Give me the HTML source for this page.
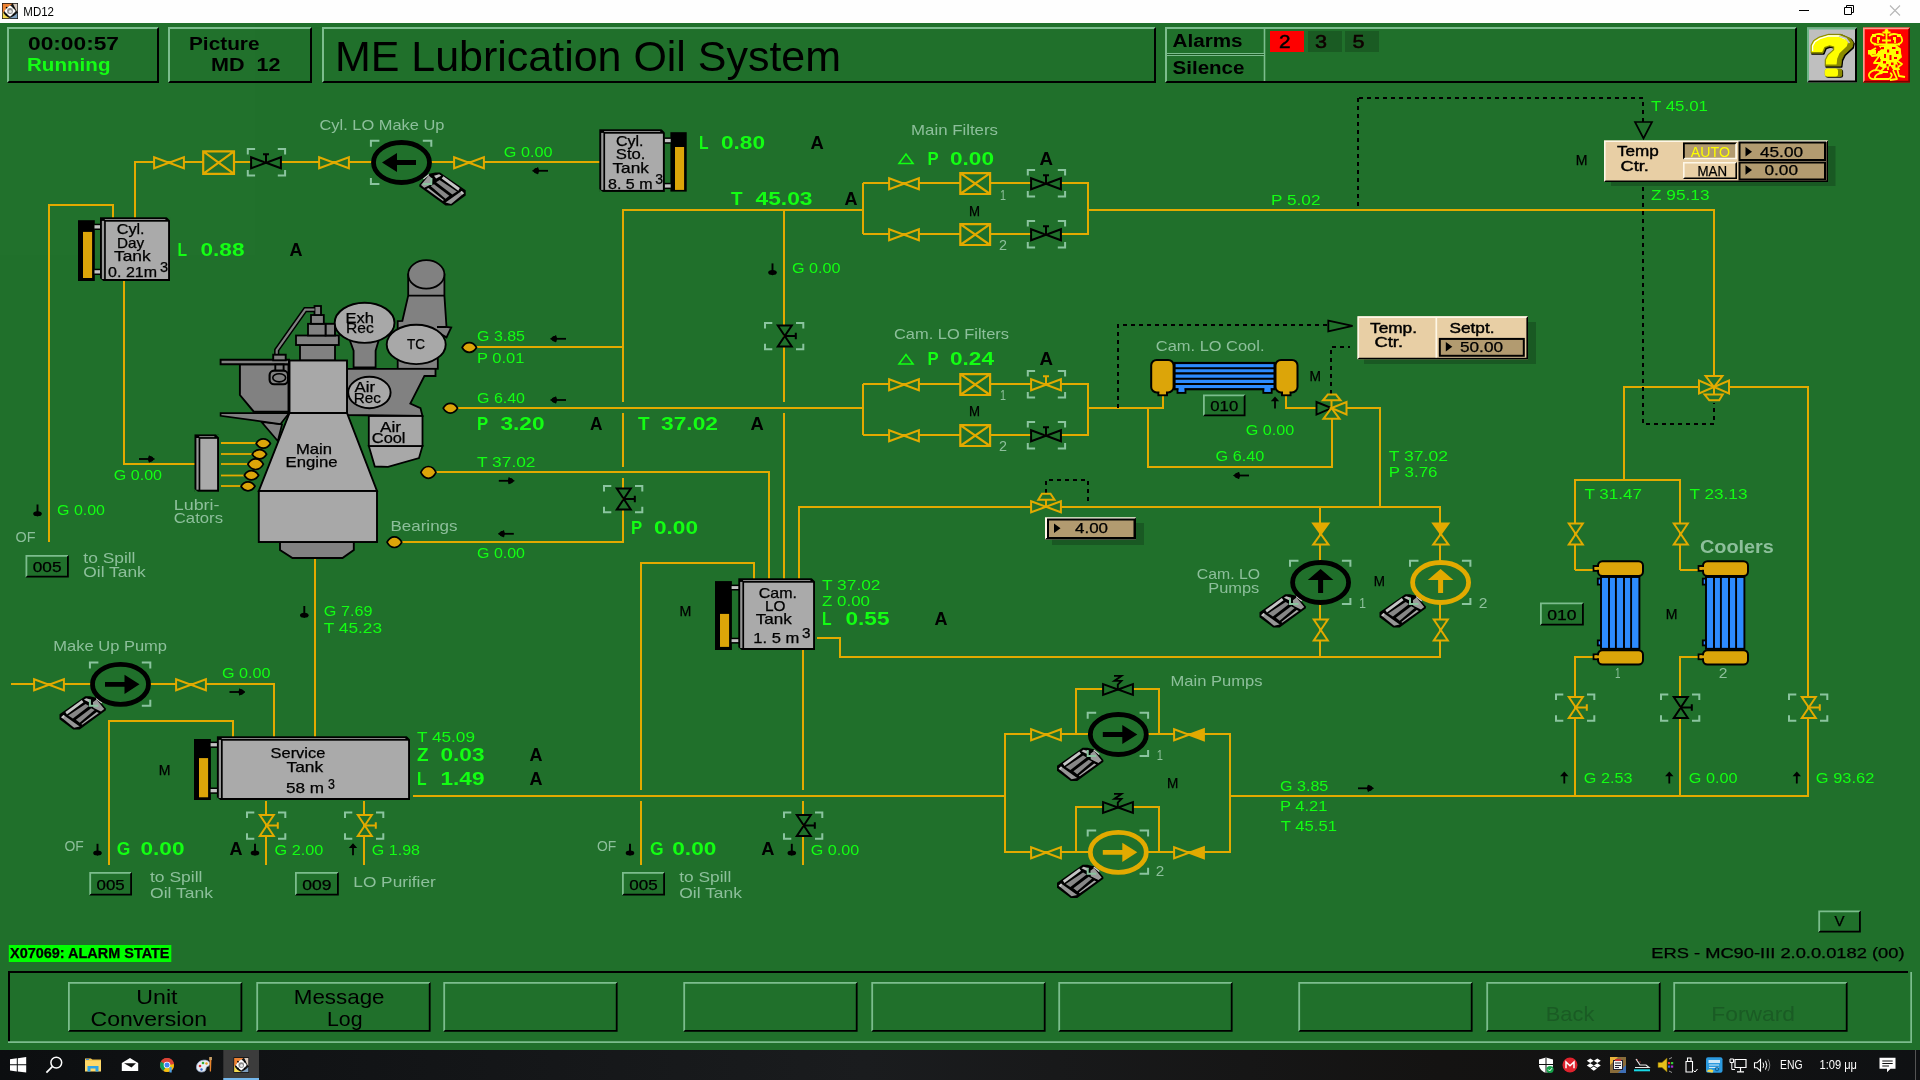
<!DOCTYPE html>
<html><head><meta charset="utf-8"><title>MD12</title>
<style>
html,body{margin:0;padding:0;background:#21712C;overflow:hidden;}
body{width:1920px;height:1080px;font-family:"Liberation Sans",sans-serif;}
svg{display:block;position:absolute;left:0;top:0;will-change:transform;opacity:0.9999;}
text{font-family:"Liberation Sans",sans-serif;white-space:pre;}
.g{fill:#14FF14;font-size:13.9px;}
.G{fill:#14FF14;font-size:17.8px;font-weight:bold;}
.A{fill:#000;font-size:17.8px;font-weight:bold;}
.l{fill:#8EC09C;font-size:13.9px;}
.L{fill:#8EC09C;font-size:17.8px;font-weight:bold;}
.k{fill:#000;font-size:13.9px;stroke:#000;stroke-width:0.25px;}
.kb{fill:#000;font-size:13.9px;stroke:#000;stroke-width:0.4px;}
.h{fill:#000;font-size:17.6px;font-weight:bold;}
.hg{fill:#14FF14;font-size:17.6px;font-weight:bold;}
.b{fill:#000;font-size:20.6px;}
.bd{fill:#1B5C25;font-size:20.6px;}
.t{fill:#000;font-size:43px;}
.w{fill:#fff;font-size:12px;}
</style></head><body>
<svg width="1920" height="1080" viewBox="0 0 1920 1080">
<rect x="0" y="0" width="1920" height="1080" fill="#21712C"/>
<rect x="0" y="0" width="1920" height="23" fill="#FFFFFF"/>
<g transform="translate(2,3)"><rect width="16" height="16" fill="#151515"/><path d="M0.7,0.7 H10.5 C6.5,3 3,6.5 0.7,10.5 Z" fill="#F08434"/><path d="M11,0.7 H15.3 V9 C13.5,6.5 12.5,3.5 11,0.7 Z" fill="#D9CBBE"/><path d="M0.7,8.5 C2,11.5 5,14.3 8.5,15.3 H0.7 Z" fill="#F5DC50"/><path d="M15.3,9.8 V15.3 H6.8 C10.5,14.3 13.3,12.3 15.3,9.8 Z" fill="#7FA0C0"/><path d="M8,2.2 L13.8,8 L8,13.8 L2.2,8 Z" fill="#fff"/><circle cx="8" cy="8" r="4.6" fill="#fff"/><circle cx="4.6" cy="4.6" r="0.9" fill="#000"/><circle cx="11.4" cy="4.6" r="0.9" fill="#000"/><circle cx="4.6" cy="11.4" r="0.9" fill="#000"/><circle cx="11.4" cy="11.4" r="0.9" fill="#000"/><circle cx="8" cy="8" r="2.9" fill="#8A8A8A"/><circle cx="8.3" cy="8.5" r="1.6" fill="#E8E8E8"/></g>
<text x="23.3" y="15.8" textLength="30.7" lengthAdjust="spacingAndGlyphs" class="w" font-size="12.2" style="fill:#000">MD12</text>
<path d="M1799,10.5 H1809" stroke="#000" stroke-width="1"/>
<path d="M1844.5,7.5 H1851.5 V14.5 H1844.5 Z M1846.5,7.5 V5.5 H1853.5 V12.5 H1851.5" stroke="#000" stroke-width="1" fill="none"/>
<path d="M1890,5.5 L1900,15.5 M1900,5.5 L1890,15.5" stroke="#B8B8B8" stroke-width="1.1"/>
<path d="M7,83 L7,27 L159,27 L157,29 L9,29 L9,81 Z" fill="#7DBE8E"/>
<path d="M7,83 L159,83 L159,27 L157,29 L157,81 L9,81 Z" fill="#000"/>
<path d="M168,83 L168,27 L312,27 L310,29 L170,29 L170,81 Z" fill="#7DBE8E"/>
<path d="M168,83 L312,83 L312,27 L310,29 L310,81 L170,81 Z" fill="#000"/>
<path d="M322,83 L322,27 L1156,27 L1154,29 L324,29 L324,81 Z" fill="#7DBE8E"/>
<path d="M322,83 L1156,83 L1156,27 L1154,29 L1154,81 L324,81 Z" fill="#000"/>
<path d="M1165,83 L1165,27 L1797,27 L1795,29 L1167,29 L1167,81 Z" fill="#7DBE8E"/>
<path d="M1165,83 L1797,83 L1797,27 L1795,29 L1795,81 L1167,81 Z" fill="#000"/>
<text x="28.0" y="49.7" textLength="91.0" lengthAdjust="spacingAndGlyphs" class="h">00:00:57</text>
<text x="27.0" y="71.0" textLength="83.5" lengthAdjust="spacingAndGlyphs" class="hg">Running</text>
<text x="189.0" y="49.7" textLength="70.5" lengthAdjust="spacingAndGlyphs" class="h">Picture</text>
<text x="211.0" y="71.0" textLength="69.5" lengthAdjust="spacingAndGlyphs" class="h">MD  12</text>
<text x="335.0" y="70.8" textLength="506.0" lengthAdjust="spacingAndGlyphs" class="t">ME Lubrication Oil System</text>
<path d="M1264.5,29 V81" stroke="#7DBE8E" stroke-width="1.6"/><path d="M1167,53.5 H1264 M1167,55.5 H1264" stroke="#7DBE8E" stroke-width="1"/><path d="M1167,54.5 H1264" stroke="#1B5C24" stroke-width="1"/>
<text x="1172.5" y="46.8" textLength="70.0" lengthAdjust="spacingAndGlyphs" class="h">Alarms</text>
<text x="1172.5" y="73.8" textLength="72.0" lengthAdjust="spacingAndGlyphs" class="h">Silence</text>
<rect x="1270" y="31" width="34" height="21" fill="#FF0000"/>
<rect x="1308" y="31" width="34" height="21" fill="#1B5C24"/>
<rect x="1345" y="31" width="34" height="21" fill="#1B5C24"/>
<text x="1279.0" y="47.5" textLength="11.5" lengthAdjust="spacingAndGlyphs" class="h" font-size="18.5" style="font-weight:normal;stroke:#000;stroke-width:0.5px">2</text>
<text x="1315.0" y="47.5" textLength="12.0" lengthAdjust="spacingAndGlyphs" class="h" font-size="18.5" style="font-weight:normal;fill:#100000;stroke:#100000;stroke-width:0.5px">3</text>
<text x="1352.5" y="47.5" textLength="12.0" lengthAdjust="spacingAndGlyphs" class="h" font-size="18.5" style="font-weight:normal;fill:#100000;stroke:#100000;stroke-width:0.5px">5</text>
<rect x="1807" y="27.5" width="50" height="55.0" fill="#C0C0C0"/>
<path d="M1807,82.5 V27.5 H1857 L1855,29.5 H1809 V80.5 Z" fill="#6FB88A"/>
<path d="M1807,82.5 H1857 V27.5 L1855,29.5 V80.5 H1809 Z" fill="#000"/>
<path d="M1811.0,53.2 L1811.0,45.3 L1813.5,40.5 L1818.9,37.1 L1828.3,34.3 L1840.9,34.3 L1850.4,38.4 L1853.2,42.8 L1852.3,47.2 L1844.1,54.7 L1841.6,59.8 L1840.9,66.1 L1825.2,66.1 L1825.2,59.8 L1827.7,54.7 L1833.4,49.7 L1833.4,47.2 L1829.6,46.2 L1825.2,47.8 L1823.0,53.2 Z" transform="translate(0.9,0.9)" fill="#000" stroke="#000" stroke-width="1.4" stroke-linejoin="round"/>
<path d="M1811.0,53.2 L1811.0,45.3 L1813.5,40.5 L1818.9,37.1 L1828.3,34.3 L1840.9,34.3 L1850.4,38.4 L1853.2,42.8 L1852.3,47.2 L1844.1,54.7 L1841.6,59.8 L1840.9,66.1 L1825.2,66.1 L1825.2,59.8 L1827.7,54.7 L1833.4,49.7 L1833.4,47.2 L1829.6,46.2 L1825.2,47.8 L1823.0,53.2 Z" fill="#8B8B00" stroke="#8B8B00" stroke-width="0.8" stroke-linejoin="round"/>
<path d="M1811.6,52.0 L1811.6,45.6 L1814.0,41.0 L1819.2,37.8 L1828.4,35.0 L1839.5,35.0 L1846.5,38.5 L1848.0,42.6 L1846.8,46.2 L1839.5,53.2 L1837.2,58.8 L1836.6,64.6 L1825.9,64.6 L1825.9,60.0 L1828.3,55.2 L1834.2,50.0 L1834.2,46.6 L1829.6,45.2 L1824.4,47.0 L1822.2,52.0 Z" fill="#FFFF00"/>
<path d="M1812.6,51 V46 L1815,41.6 L1819.8,38.6 L1828.6,36 H1838.5 L1845,39" stroke="#fff" stroke-width="1.3" fill="none"/>
<path d="M1839,36 L1846,38.5 L1849.5,43" stroke="#C8C8C8" stroke-width="1.6" fill="none"/>
<rect x="1825.6" y="69.2" width="17.5" height="8.6" rx="2.5" fill="#000"/><rect x="1824.8" y="68.4" width="17.5" height="8.6" rx="2.5" fill="#8B8B00"/><rect x="1824.8" y="68.4" width="13.2" height="8" rx="2.5" fill="#FFFF00"/>
<rect x="1863" y="27.5" width="47" height="55.0" fill="#FF0000"/>
<path d="M1863,82.5 V27.5 H1910 L1908.3,29.2 H1864.7 V80.8 Z" fill="#FF9C8C"/>
<path d="M1863,82.5 H1910 V27.5 L1908.3,29.2 V80.8 H1864.7 Z" fill="#7E0000"/>
<g stroke="#FFFF00" fill="none" stroke-width="1.8" stroke-linejoin="round"><path d="M1886.5,29.5 V44 M1882.5,32.5 H1890.5"/><path d="M1871,39 C1872,33 1882,33 1884,36 M1889,36 C1891,33 1901,33 1902,39 C1903,42 1900,44 1898,44 M1871,39 C1870,42 1873,44 1876,44"/><path d="M1874,44.5 H1900 M1878,38 V43 M1895,38 V43 M1882,40.5 H1891"/><path d="M1876,48 L1869,52 L1872,56 L1880,55 L1874,63 L1880,63 L1875,71 M1880,47 L1892,46 L1899,50 L1901,57 L1896,60 L1902,64 L1897,68 L1899,76 L1905,77"/><path d="M1884,48 V66 M1888,47 V70 M1892,50 V66 M1880,58 H1897 M1878,52 H1896 M1881,63 H1895"/><path d="M1896,54 L1900,52 M1893,70 L1897,79 L1890,80 M1884,68 L1880,72 L1888,72"/><path d="M1869,74 C1872,69 1880,69 1882,73 C1878,73 1874,76 1875,79 H1889 C1892,77 1893,74 1890,73 M1869,74 C1868,77 1871,80 1875,79"/></g>
<circle cx="1886.5" cy="31" r="2" fill="#FFFF00"/>
<polygon points="1878.7,45.9 1894.5,44 1900.8,48.4 1901.4,57.3 1897,62.3 1900.1,69.9 1893.2,69.9 1890.7,66.1 1883.8,68.6 1879.3,66.1 1881.2,57.3 1875.6,54.7 1881.2,49.1" fill="#FFFF00"/>
<g fill="#FF0000"><rect x="1881" y="47" width="3" height="2.2"/><rect x="1887" y="49.5" width="2.2" height="3"/><rect x="1892" y="47" width="3.5" height="2"/><rect x="1896" y="51" width="2.5" height="3"/><rect x="1884" y="54" width="2" height="4"/><rect x="1889.5" y="55" width="2" height="5"/><rect x="1894" y="57" width="3" height="2"/><rect x="1883" y="61" width="3" height="2.5"/><rect x="1891" y="62.5" width="2.5" height="2.5"/><rect x="1886.5" y="64" width="2" height="2.5"/><rect x="1895.5" y="64.5" width="2" height="3"/></g>
<g fill="#FFFF00"><rect x="1872" y="34" width="4" height="3"/><rect x="1877" y="37" width="3" height="3"/><rect x="1893" y="37" width="3" height="3"/><rect x="1897" y="34" width="4" height="3"/><rect x="1868" y="50" width="8" height="4.5"/></g>
<polyline points="135,218 135,162 600,162" fill="none" stroke="#E3AB00" stroke-width="2" shape-rendering="crispEdges"/>
<polyline points="113,218 113,205 49,205 49,542" fill="none" stroke="#E3AB00" stroke-width="2" shape-rendering="crispEdges"/>
<polyline points="124,280 124,464 195,464" fill="none" stroke="#E3AB00" stroke-width="2" shape-rendering="crispEdges"/>
<path d="M221,443 H256" stroke="#E3AB00" stroke-width="1.8"/>
<path d="M221,454 H252" stroke="#E3AB00" stroke-width="1.8"/>
<path d="M221,464 H249" stroke="#E3AB00" stroke-width="1.8"/>
<path d="M221,475.5 H244" stroke="#E3AB00" stroke-width="1.8"/>
<path d="M221,486 H241" stroke="#E3AB00" stroke-width="1.8"/>
<polyline points="476,347 623,347" fill="none" stroke="#E3AB00" stroke-width="2" shape-rendering="crispEdges"/>
<polyline points="457,408 863,408" fill="none" stroke="#E3AB00" stroke-width="2" shape-rendering="crispEdges"/>
<polyline points="435,472 769,472 769,579" fill="none" stroke="#E3AB00" stroke-width="2" shape-rendering="crispEdges"/>
<polyline points="401,542 624,542" fill="none" stroke="#E3AB00" stroke-width="2" shape-rendering="crispEdges"/>
<polyline points="623,210 623,402" fill="none" stroke="#E3AB00" stroke-width="2" shape-rendering="crispEdges"/>
<polyline points="623,413 623,467" fill="none" stroke="#E3AB00" stroke-width="2" shape-rendering="crispEdges"/>
<polyline points="623,478 623,543" fill="none" stroke="#E3AB00" stroke-width="2" shape-rendering="crispEdges"/>
<polyline points="622,210 863,210" fill="none" stroke="#E3AB00" stroke-width="2" shape-rendering="crispEdges"/>
<polyline points="863,183 863,234" fill="none" stroke="#E3AB00" stroke-width="2" shape-rendering="crispEdges"/>
<polyline points="863,183 1088,183" fill="none" stroke="#E3AB00" stroke-width="2" shape-rendering="crispEdges"/>
<polyline points="863,234 1088,234" fill="none" stroke="#E3AB00" stroke-width="2" shape-rendering="crispEdges"/>
<polyline points="1088,182 1088,235" fill="none" stroke="#E3AB00" stroke-width="2" shape-rendering="crispEdges"/>
<polyline points="1088,210 1714,210 1714,376" fill="none" stroke="#E3AB00" stroke-width="2" shape-rendering="crispEdges"/>
<polyline points="784,210 784,402" fill="none" stroke="#E3AB00" stroke-width="2" shape-rendering="crispEdges"/>
<polyline points="784,413 784,579" fill="none" stroke="#E3AB00" stroke-width="2" shape-rendering="crispEdges"/>
<polyline points="863,384 863,435" fill="none" stroke="#E3AB00" stroke-width="2" shape-rendering="crispEdges"/>
<polyline points="863,384 1088,384" fill="none" stroke="#E3AB00" stroke-width="2" shape-rendering="crispEdges"/>
<polyline points="863,435 1088,435" fill="none" stroke="#E3AB00" stroke-width="2" shape-rendering="crispEdges"/>
<polyline points="1088,383 1088,436" fill="none" stroke="#E3AB00" stroke-width="2" shape-rendering="crispEdges"/>
<polyline points="1088,408 1163,408 1163,394" fill="none" stroke="#E3AB00" stroke-width="2" shape-rendering="crispEdges"/>
<polyline points="1148,408 1148,467 1332,467 1332,418" fill="none" stroke="#E3AB00" stroke-width="2" shape-rendering="crispEdges"/>
<polyline points="1286,394 1286,408 1317,408" fill="none" stroke="#E3AB00" stroke-width="2" shape-rendering="crispEdges"/>
<polyline points="1346,408 1380,408 1380,507" fill="none" stroke="#E3AB00" stroke-width="2" shape-rendering="crispEdges"/>
<polyline points="799,579 799,507 1441,507" fill="none" stroke="#E3AB00" stroke-width="2" shape-rendering="crispEdges"/>
<polyline points="1440,507 1440,657" fill="none" stroke="#E3AB00" stroke-width="2" shape-rendering="crispEdges"/>
<polyline points="1320,507 1320,657" fill="none" stroke="#E3AB00" stroke-width="2" shape-rendering="crispEdges"/>
<polyline points="817,638 840,638 840,657 1441,657" fill="none" stroke="#E3AB00" stroke-width="2" shape-rendering="crispEdges"/>
<polyline points="803,650 803,790" fill="none" stroke="#E3AB00" stroke-width="2" shape-rendering="crispEdges"/>
<polyline points="803,801 803,865" fill="none" stroke="#E3AB00" stroke-width="2" shape-rendering="crispEdges"/>
<polyline points="754,579 754,563 641,563 641,790" fill="none" stroke="#E3AB00" stroke-width="2" shape-rendering="crispEdges"/>
<polyline points="641,801 641,865" fill="none" stroke="#E3AB00" stroke-width="2" shape-rendering="crispEdges"/>
<polyline points="413,796 1005,796" fill="none" stroke="#E3AB00" stroke-width="2" shape-rendering="crispEdges"/>
<polyline points="1005,733 1005,853" fill="none" stroke="#E3AB00" stroke-width="2" shape-rendering="crispEdges"/>
<polyline points="1005,734 1230,734" fill="none" stroke="#E3AB00" stroke-width="2" shape-rendering="crispEdges"/>
<polyline points="1005,852 1230,852" fill="none" stroke="#E3AB00" stroke-width="2" shape-rendering="crispEdges"/>
<polyline points="1230,733 1230,853" fill="none" stroke="#E3AB00" stroke-width="2" shape-rendering="crispEdges"/>
<polyline points="1230,796 1808,796 1808,387 1729,387" fill="none" stroke="#E3AB00" stroke-width="2" shape-rendering="crispEdges"/>
<polyline points="1076,734 1076,689 1159,689 1159,734" fill="none" stroke="#E3AB00" stroke-width="2" shape-rendering="crispEdges"/>
<polyline points="1076,852 1076,807 1159,807 1159,852" fill="none" stroke="#E3AB00" stroke-width="2" shape-rendering="crispEdges"/>
<polyline points="1699,387 1624,387 1624,480" fill="none" stroke="#E3AB00" stroke-width="2" shape-rendering="crispEdges"/>
<polyline points="1575,570 1575,480 1680,480 1680,570" fill="none" stroke="#E3AB00" stroke-width="2" shape-rendering="crispEdges"/>
<polyline points="1594,570 1575,570" fill="none" stroke="#E3AB00" stroke-width="2" shape-rendering="crispEdges"/>
<polyline points="1699,570 1680,570" fill="none" stroke="#E3AB00" stroke-width="2" shape-rendering="crispEdges"/>
<polyline points="1594,657 1575,657 1575,796" fill="none" stroke="#E3AB00" stroke-width="2" shape-rendering="crispEdges"/>
<polyline points="1699,657 1680,657 1680,796" fill="none" stroke="#E3AB00" stroke-width="2" shape-rendering="crispEdges"/>
<polyline points="315,558 315,738" fill="none" stroke="#E3AB00" stroke-width="2" shape-rendering="crispEdges"/>
<polyline points="11,684 274,684 274,738" fill="none" stroke="#E3AB00" stroke-width="2" shape-rendering="crispEdges"/>
<polyline points="109,865 109,721 233,721 233,738" fill="none" stroke="#E3AB00" stroke-width="2" shape-rendering="crispEdges"/>
<polyline points="266,801 266,865" fill="none" stroke="#E3AB00" stroke-width="2" shape-rendering="crispEdges"/>
<polyline points="364,801 364,865" fill="none" stroke="#E3AB00" stroke-width="2" shape-rendering="crispEdges"/>
<polyline points="1358,206 1358,97" fill="none" stroke="#000" stroke-width="2" stroke-dasharray="4 4" shape-rendering="crispEdges"/>
<polyline points="1359,98 1643,98 1643,122" fill="none" stroke="#000" stroke-width="2" stroke-dasharray="4 4" shape-rendering="crispEdges"/>
<polyline points="1643,187 1643,424 1714,424 1714,403" fill="none" stroke="#000" stroke-width="2" stroke-dasharray="4 4" shape-rendering="crispEdges"/>
<polyline points="1118,408 1118,325 1328,325" fill="none" stroke="#000" stroke-width="2" stroke-dasharray="4 4" shape-rendering="crispEdges"/>
<polyline points="1331,394 1331,347 1350,347" fill="none" stroke="#000" stroke-width="2" stroke-dasharray="4 4" shape-rendering="crispEdges"/>
<polyline points="1046,493 1046,480 1088,480 1088,502" fill="none" stroke="#000" stroke-width="2" stroke-dasharray="4 4" shape-rendering="crispEdges"/>
<polygon points="1635.0,122.0 1652.0,122.0 1643.5,138.5" fill="#21712C" stroke="#000" stroke-width="1.7" stroke-linejoin="miter"/>
<polygon points="1328.3,320.5 1328.3,331.3 1352.6,325.9" fill="#21712C" stroke="#000" stroke-width="1.8" stroke-linejoin="miter"/>
<polygon points="154.1,157.3 154.1,168.3 169.0,162.8" fill="#21712C" stroke="#E3AB00" stroke-width="2.0" stroke-linejoin="miter"/>
<polygon points="183.9,157.3 183.9,168.3 169.0,162.8" fill="#21712C" stroke="#E3AB00" stroke-width="2.0" stroke-linejoin="miter"/>
<polygon points="319.1,157.3 319.1,168.3 334.0,162.8" fill="#21712C" stroke="#E3AB00" stroke-width="2.0" stroke-linejoin="miter"/>
<polygon points="348.9,157.3 348.9,168.3 334.0,162.8" fill="#21712C" stroke="#E3AB00" stroke-width="2.0" stroke-linejoin="miter"/>
<polygon points="454.1,157.3 454.1,168.3 469.0,162.8" fill="#21712C" stroke="#E3AB00" stroke-width="2.0" stroke-linejoin="miter"/>
<polygon points="483.9,157.3 483.9,168.3 469.0,162.8" fill="#21712C" stroke="#E3AB00" stroke-width="2.0" stroke-linejoin="miter"/>
<polygon points="889.1,178.3 889.1,189.3 904.0,183.8" fill="#21712C" stroke="#E3AB00" stroke-width="2.0" stroke-linejoin="miter"/>
<polygon points="918.9,178.3 918.9,189.3 904.0,183.8" fill="#21712C" stroke="#E3AB00" stroke-width="2.0" stroke-linejoin="miter"/>
<polygon points="889.1,229.3 889.1,240.3 904.0,234.8" fill="#21712C" stroke="#E3AB00" stroke-width="2.0" stroke-linejoin="miter"/>
<polygon points="918.9,229.3 918.9,240.3 904.0,234.8" fill="#21712C" stroke="#E3AB00" stroke-width="2.0" stroke-linejoin="miter"/>
<polygon points="889.1,379.3 889.1,390.3 904.0,384.8" fill="#21712C" stroke="#E3AB00" stroke-width="2.0" stroke-linejoin="miter"/>
<polygon points="918.9,379.3 918.9,390.3 904.0,384.8" fill="#21712C" stroke="#E3AB00" stroke-width="2.0" stroke-linejoin="miter"/>
<polygon points="889.1,430.3 889.1,441.3 904.0,435.8" fill="#21712C" stroke="#E3AB00" stroke-width="2.0" stroke-linejoin="miter"/>
<polygon points="918.9,430.3 918.9,441.3 904.0,435.8" fill="#21712C" stroke="#E3AB00" stroke-width="2.0" stroke-linejoin="miter"/>
<polygon points="34.1,679.3 34.1,690.3 49.0,684.8" fill="#21712C" stroke="#E3AB00" stroke-width="2.0" stroke-linejoin="miter"/>
<polygon points="63.9,679.3 63.9,690.3 49.0,684.8" fill="#21712C" stroke="#E3AB00" stroke-width="2.0" stroke-linejoin="miter"/>
<polygon points="176.1,679.3 176.1,690.3 191.0,684.8" fill="#21712C" stroke="#E3AB00" stroke-width="2.0" stroke-linejoin="miter"/>
<polygon points="205.9,679.3 205.9,690.3 191.0,684.8" fill="#21712C" stroke="#E3AB00" stroke-width="2.0" stroke-linejoin="miter"/>
<polygon points="1031.1,729.3 1031.1,740.3 1046.0,734.8" fill="#21712C" stroke="#E3AB00" stroke-width="2.0" stroke-linejoin="miter"/>
<polygon points="1060.9,729.3 1060.9,740.3 1046.0,734.8" fill="#21712C" stroke="#E3AB00" stroke-width="2.0" stroke-linejoin="miter"/>
<polygon points="1031.1,847.3 1031.1,858.3 1046.0,852.8" fill="#21712C" stroke="#E3AB00" stroke-width="2.0" stroke-linejoin="miter"/>
<polygon points="1060.9,847.3 1060.9,858.3 1046.0,852.8" fill="#21712C" stroke="#E3AB00" stroke-width="2.0" stroke-linejoin="miter"/>
<path d="M247.8,154.5 L247.8,149.1 L255.10000000000002,149.1 M277.8,149.1 L285.1,149.1 L285.1,154.5 M247.8,170.0 L247.8,175.4 L255.10000000000002,175.4 M277.8,175.4 L285.1,175.4 L285.1,170.0 " stroke="#8CC5A0" stroke-width="2" fill="none"/>
<polygon points="251.1,157.3 251.1,168.3 266.0,162.8" fill="#21712C" stroke="#000" stroke-width="2.0" stroke-linejoin="miter"/>
<polygon points="280.9,157.3 280.9,168.3 266.0,162.8" fill="#21712C" stroke="#000" stroke-width="2.0" stroke-linejoin="miter"/>
<path d="M266,162.8 L266,154.20000000000002 M263,154.20000000000002 L269,154.20000000000002" stroke="#000" stroke-width="2.0" fill="none"/>
<path d="M1027.8,175.5 L1027.8,170.1 L1035.1,170.1 M1057.8,170.1 L1065.1,170.1 L1065.1,175.5 M1027.8,191.0 L1027.8,196.4 L1035.1,196.4 M1057.8,196.4 L1065.1,196.4 L1065.1,191.0 " stroke="#8CC5A0" stroke-width="2" fill="none"/>
<polygon points="1031.1,178.3 1031.1,189.3 1046.0,183.8" fill="#21712C" stroke="#000" stroke-width="2.0" stroke-linejoin="miter"/>
<polygon points="1060.9,178.3 1060.9,189.3 1046.0,183.8" fill="#21712C" stroke="#000" stroke-width="2.0" stroke-linejoin="miter"/>
<path d="M1046,183.8 L1046,175.20000000000002 M1043,175.20000000000002 L1049,175.20000000000002" stroke="#000" stroke-width="2.0" fill="none"/>
<path d="M1027.8,226.5 L1027.8,221.1 L1035.1,221.1 M1057.8,221.1 L1065.1,221.1 L1065.1,226.5 M1027.8,242.0 L1027.8,247.4 L1035.1,247.4 M1057.8,247.4 L1065.1,247.4 L1065.1,242.0 " stroke="#8CC5A0" stroke-width="2" fill="none"/>
<polygon points="1031.1,229.3 1031.1,240.3 1046.0,234.8" fill="#21712C" stroke="#000" stroke-width="2.0" stroke-linejoin="miter"/>
<polygon points="1060.9,229.3 1060.9,240.3 1046.0,234.8" fill="#21712C" stroke="#000" stroke-width="2.0" stroke-linejoin="miter"/>
<path d="M1046,234.8 L1046,226.20000000000002 M1043,226.20000000000002 L1049,226.20000000000002" stroke="#000" stroke-width="2.0" fill="none"/>
<path d="M1027.8,376.5 L1027.8,371.1 L1035.1,371.1 M1057.8,371.1 L1065.1,371.1 L1065.1,376.5 M1027.8,392.0 L1027.8,397.4 L1035.1,397.4 M1057.8,397.4 L1065.1,397.4 L1065.1,392.0 " stroke="#8CC5A0" stroke-width="2" fill="none"/>
<polygon points="1031.1,379.3 1031.1,390.3 1046.0,384.8" fill="#21712C" stroke="#E3AB00" stroke-width="2.0" stroke-linejoin="miter"/>
<polygon points="1060.9,379.3 1060.9,390.3 1046.0,384.8" fill="#21712C" stroke="#E3AB00" stroke-width="2.0" stroke-linejoin="miter"/>
<path d="M1046,384.8 L1046,376.2 M1043,376.2 L1049,376.2" stroke="#E3AB00" stroke-width="2.0" fill="none"/>
<path d="M1027.8,427.5 L1027.8,422.1 L1035.1,422.1 M1057.8,422.1 L1065.1,422.1 L1065.1,427.5 M1027.8,443.0 L1027.8,448.4 L1035.1,448.4 M1057.8,448.4 L1065.1,448.4 L1065.1,443.0 " stroke="#8CC5A0" stroke-width="2" fill="none"/>
<polygon points="1031.1,430.3 1031.1,441.3 1046.0,435.8" fill="#21712C" stroke="#000" stroke-width="2.0" stroke-linejoin="miter"/>
<polygon points="1060.9,430.3 1060.9,441.3 1046.0,435.8" fill="#21712C" stroke="#000" stroke-width="2.0" stroke-linejoin="miter"/>
<path d="M1046,435.8 L1046,427.2 M1043,427.2 L1049,427.2" stroke="#000" stroke-width="2.0" fill="none"/>
<polygon points="1174.1,729.3 1174.1,740.3 1189.0,734.8" fill="#21712C" stroke="#E3AB00" stroke-width="2.0" stroke-linejoin="miter"/>
<polygon points="1203.9,729.3 1203.9,740.3 1189.0,734.8" fill="#E3AB00" stroke="#E3AB00" stroke-width="2.0" stroke-linejoin="miter"/>
<polygon points="1174.1,847.3 1174.1,858.3 1189.0,852.8" fill="#21712C" stroke="#E3AB00" stroke-width="2.0" stroke-linejoin="miter"/>
<polygon points="1203.9,847.3 1203.9,858.3 1189.0,852.8" fill="#E3AB00" stroke="#E3AB00" stroke-width="2.0" stroke-linejoin="miter"/>
<polygon points="1103.1,684.1 1103.1,694.9 1118.0,689.5" fill="#21712C" stroke="#000" stroke-width="2.0" stroke-linejoin="miter"/>
<polygon points="1132.9,684.1 1132.9,694.9 1118.0,689.5" fill="#21712C" stroke="#000" stroke-width="2.0" stroke-linejoin="miter"/>
<path d="M1114,675.9 H1121.4 L1114.4,680.9 H1121.4 L1117.8,684.6 V689.5" stroke="#000" stroke-width="1.9" fill="none" stroke-linejoin="miter"/>
<polygon points="1103.1,802.1 1103.1,812.9 1118.0,807.5" fill="#21712C" stroke="#000" stroke-width="2.0" stroke-linejoin="miter"/>
<polygon points="1132.9,802.1 1132.9,812.9 1118.0,807.5" fill="#21712C" stroke="#000" stroke-width="2.0" stroke-linejoin="miter"/>
<path d="M1114,793.9 H1121.4 L1114.4,798.9 H1121.4 L1117.8,802.6 V807.5" stroke="#000" stroke-width="1.9" fill="none" stroke-linejoin="miter"/>
<path d="M765,328.5 L765,323.1 L772.3,323.1 M796.0,323.1 L803.3,323.1 L803.3,328.5 M765,343.8 L765,349.2 L772.3,349.2 M796.0,349.2 L803.3,349.2 L803.3,343.8 " stroke="#8CC5A0" stroke-width="2" fill="none"/>
<polygon points="777.8,325.5 791.8,325.5 784.8,336.0" fill="#21712C" stroke="#000" stroke-width="2.0" stroke-linejoin="miter"/>
<polygon points="777.8,346.5 791.8,346.5 784.8,336.0" fill="#21712C" stroke="#000" stroke-width="2.0" stroke-linejoin="miter"/>
<path d="M784.8,336 L795.8,336 M795.8,332.7 L795.8,339.3" stroke="#000" stroke-width="2.0" fill="none"/>
<path d="M604,491.5 L604,486.1 L611.3,486.1 M635.0,486.1 L642.3,486.1 L642.3,491.5 M604,506.80000000000007 L604,512.2 L611.3,512.2 M635.0,512.2 L642.3,512.2 L642.3,506.80000000000007 " stroke="#8CC5A0" stroke-width="2" fill="none"/>
<polygon points="616.8,488.5 630.8,488.5 623.8,499.0" fill="#21712C" stroke="#000" stroke-width="2.0" stroke-linejoin="miter"/>
<polygon points="616.8,509.5 630.8,509.5 623.8,499.0" fill="#21712C" stroke="#000" stroke-width="2.0" stroke-linejoin="miter"/>
<path d="M623.8,499 L634.8,499 M634.8,495.7 L634.8,502.3" stroke="#000" stroke-width="2.0" fill="none"/>
<path d="M247,818.0 L247,812.6 L254.3,812.6 M278.0,812.6 L285.3,812.6 L285.3,818.0 M247,833.3000000000001 L247,838.7 L254.3,838.7 M278.0,838.7 L285.3,838.7 L285.3,833.3000000000001 " stroke="#8CC5A0" stroke-width="2" fill="none"/>
<polygon points="259.8,815.0 273.8,815.0 266.8,825.5" fill="#21712C" stroke="#E3AB00" stroke-width="2.0" stroke-linejoin="miter"/>
<polygon points="259.8,836.0 273.8,836.0 266.8,825.5" fill="#21712C" stroke="#E3AB00" stroke-width="2.0" stroke-linejoin="miter"/>
<path d="M266.8,825.5 L277.8,825.5 M277.8,822.2 L277.8,828.8" stroke="#E3AB00" stroke-width="2.0" fill="none"/>
<path d="M345,818.0 L345,812.6 L352.3,812.6 M376.0,812.6 L383.3,812.6 L383.3,818.0 M345,833.3000000000001 L345,838.7 L352.3,838.7 M376.0,838.7 L383.3,838.7 L383.3,833.3000000000001 " stroke="#8CC5A0" stroke-width="2" fill="none"/>
<polygon points="357.8,815.0 371.8,815.0 364.8,825.5" fill="#21712C" stroke="#E3AB00" stroke-width="2.0" stroke-linejoin="miter"/>
<polygon points="357.8,836.0 371.8,836.0 364.8,825.5" fill="#21712C" stroke="#E3AB00" stroke-width="2.0" stroke-linejoin="miter"/>
<path d="M364.8,825.5 L375.8,825.5 M375.8,822.2 L375.8,828.8" stroke="#E3AB00" stroke-width="2.0" fill="none"/>
<path d="M784,818.0 L784,812.6 L791.3,812.6 M815.0,812.6 L822.3,812.6 L822.3,818.0 M784,833.3000000000001 L784,838.7 L791.3,838.7 M815.0,838.7 L822.3,838.7 L822.3,833.3000000000001 " stroke="#8CC5A0" stroke-width="2" fill="none"/>
<polygon points="796.8,815.0 810.8,815.0 803.8,825.5" fill="#21712C" stroke="#000" stroke-width="2.0" stroke-linejoin="miter"/>
<polygon points="796.8,836.0 810.8,836.0 803.8,825.5" fill="#21712C" stroke="#000" stroke-width="2.0" stroke-linejoin="miter"/>
<path d="M803.8,825.5 L814.8,825.5 M814.8,822.2 L814.8,828.8" stroke="#000" stroke-width="2.0" fill="none"/>
<path d="M1556,700.0 L1556,694.6 L1563.3,694.6 M1587.0,694.6 L1594.3,694.6 L1594.3,700.0 M1556,715.3000000000001 L1556,720.7 L1563.3,720.7 M1587.0,720.7 L1594.3,720.7 L1594.3,715.3000000000001 " stroke="#8CC5A0" stroke-width="2" fill="none"/>
<polygon points="1568.8,697.0 1582.8,697.0 1575.8,707.5" fill="#21712C" stroke="#E3AB00" stroke-width="2.0" stroke-linejoin="miter"/>
<polygon points="1568.8,718.0 1582.8,718.0 1575.8,707.5" fill="#21712C" stroke="#E3AB00" stroke-width="2.0" stroke-linejoin="miter"/>
<path d="M1575.8,707.5 L1586.8,707.5 M1586.8,704.2 L1586.8,710.8" stroke="#E3AB00" stroke-width="2.0" fill="none"/>
<path d="M1661,700.0 L1661,694.6 L1668.3,694.6 M1692.0,694.6 L1699.3,694.6 L1699.3,700.0 M1661,715.3000000000001 L1661,720.7 L1668.3,720.7 M1692.0,720.7 L1699.3,720.7 L1699.3,715.3000000000001 " stroke="#8CC5A0" stroke-width="2" fill="none"/>
<polygon points="1673.8,697.0 1687.8,697.0 1680.8,707.5" fill="#21712C" stroke="#000" stroke-width="2.0" stroke-linejoin="miter"/>
<polygon points="1673.8,718.0 1687.8,718.0 1680.8,707.5" fill="#21712C" stroke="#000" stroke-width="2.0" stroke-linejoin="miter"/>
<path d="M1680.8,707.5 L1691.8,707.5 M1691.8,704.2 L1691.8,710.8" stroke="#000" stroke-width="2.0" fill="none"/>
<path d="M1789,700.0 L1789,694.6 L1796.3,694.6 M1820.0,694.6 L1827.3,694.6 L1827.3,700.0 M1789,715.3000000000001 L1789,720.7 L1796.3,720.7 M1820.0,720.7 L1827.3,720.7 L1827.3,715.3000000000001 " stroke="#8CC5A0" stroke-width="2" fill="none"/>
<polygon points="1801.8,697.0 1815.8,697.0 1808.8,707.5" fill="#21712C" stroke="#E3AB00" stroke-width="2.0" stroke-linejoin="miter"/>
<polygon points="1801.8,718.0 1815.8,718.0 1808.8,707.5" fill="#21712C" stroke="#E3AB00" stroke-width="2.0" stroke-linejoin="miter"/>
<path d="M1808.8,707.5 L1819.8,707.5 M1819.8,704.2 L1819.8,710.8" stroke="#E3AB00" stroke-width="2.0" fill="none"/>
<polygon points="1568.8,523.5 1582.8,523.5 1575.8,534.0" fill="#21712C" stroke="#E3AB00" stroke-width="2.0" stroke-linejoin="miter"/>
<polygon points="1568.8,544.5 1582.8,544.5 1575.8,534.0" fill="#21712C" stroke="#E3AB00" stroke-width="2.0" stroke-linejoin="miter"/>
<polygon points="1673.8,523.5 1687.8,523.5 1680.8,534.0" fill="#21712C" stroke="#E3AB00" stroke-width="2.0" stroke-linejoin="miter"/>
<polygon points="1673.8,544.5 1687.8,544.5 1680.8,534.0" fill="#21712C" stroke="#E3AB00" stroke-width="2.0" stroke-linejoin="miter"/>
<polygon points="1313.8,619.5 1327.8,619.5 1320.8,630.0" fill="#21712C" stroke="#E3AB00" stroke-width="2.0" stroke-linejoin="miter"/>
<polygon points="1313.8,640.5 1327.8,640.5 1320.8,630.0" fill="#21712C" stroke="#E3AB00" stroke-width="2.0" stroke-linejoin="miter"/>
<polygon points="1433.8,619.5 1447.8,619.5 1440.8,630.0" fill="#21712C" stroke="#E3AB00" stroke-width="2.0" stroke-linejoin="miter"/>
<polygon points="1433.8,640.5 1447.8,640.5 1440.8,630.0" fill="#21712C" stroke="#E3AB00" stroke-width="2.0" stroke-linejoin="miter"/>
<polygon points="1313.2,523.4 1328.4,523.4 1320.8,534.0" fill="#E3AB00" stroke="#E3AB00" stroke-width="2.0" stroke-linejoin="miter"/>
<polygon points="1313.2,544.6 1328.4,544.6 1320.8,534.0" fill="#21712C" stroke="#E3AB00" stroke-width="2.0" stroke-linejoin="miter"/>
<polygon points="1433.2,523.4 1448.4,523.4 1440.8,534.0" fill="#E3AB00" stroke="#E3AB00" stroke-width="2.0" stroke-linejoin="miter"/>
<polygon points="1433.2,544.6 1448.4,544.6 1440.8,534.0" fill="#21712C" stroke="#E3AB00" stroke-width="2.0" stroke-linejoin="miter"/>
<path d="M203.2,151.29999999999998 H234.0 V173.9 H203.2 Z M203.2,151.29999999999998 L234.0,173.9 M234.0,151.29999999999998 L203.2,173.9" fill="#21712C" stroke="#E3AB00" stroke-width="2.2"/>
<path d="M960.3000000000001,173.2 H990.1 V194.0 H960.3000000000001 Z M960.3000000000001,173.2 L990.1,194.0 M990.1,173.2 L960.3000000000001,194.0" fill="#21712C" stroke="#E3AB00" stroke-width="2.2"/>
<path d="M960.3000000000001,224.2 H990.1 V245.0 H960.3000000000001 Z M960.3000000000001,224.2 L990.1,245.0 M990.1,224.2 L960.3000000000001,245.0" fill="#21712C" stroke="#E3AB00" stroke-width="2.2"/>
<path d="M960.3000000000001,374.20000000000005 H990.1 V395.0 H960.3000000000001 Z M960.3000000000001,374.20000000000005 L990.1,395.0 M990.1,374.20000000000005 L960.3000000000001,395.0" fill="#21712C" stroke="#E3AB00" stroke-width="2.2"/>
<path d="M960.3000000000001,425.20000000000005 H990.1 V446.0 H960.3000000000001 Z M960.3000000000001,425.20000000000005 L990.1,446.0 M990.1,425.20000000000005 L960.3000000000001,446.0" fill="#21712C" stroke="#E3AB00" stroke-width="2.2"/>
<polygon points="1031.1,501.3 1031.1,512.3 1046.0,506.8" fill="#21712C" stroke="#E3AB00" stroke-width="2.0" stroke-linejoin="miter"/>
<polygon points="1060.9,501.3 1060.9,512.3 1046.0,506.8" fill="#21712C" stroke="#E3AB00" stroke-width="2.0" stroke-linejoin="miter"/>
<path d="M1046,507 V499.8 M1038.3,499.8 H1054.5 L1050.5,493.8 H1042 Z" stroke="#E3AB00" stroke-width="2.0" fill="#21712C"/>
<polygon points="1316.5,402.0 1316.5,414.5 1331.5,408.0" fill="#21712C" stroke="#000" stroke-width="1.9" stroke-linejoin="miter"/>
<polygon points="1346.5,402.0 1346.5,414.5 1331.5,408.0" fill="#21712C" stroke="#E3AB00" stroke-width="2.0" stroke-linejoin="miter"/>
<polygon points="1323.5,418.8 1339.5,418.8 1331.5,408.0" fill="#21712C" stroke="#E3AB00" stroke-width="2.0" stroke-linejoin="miter"/>
<path d="M1331.5,408 V400.3 M1323,400.3 H1340.5 L1336,394.6 H1327.8 Z" stroke="#E3AB00" stroke-width="2.0" fill="#21712C"/>
<polygon points="1699.0,380.5 1699.0,393.5 1714.0,387.0" fill="#21712C" stroke="#E3AB00" stroke-width="2.0" stroke-linejoin="miter"/>
<polygon points="1729.0,380.5 1729.0,393.5 1714.0,387.0" fill="#21712C" stroke="#E3AB00" stroke-width="2.0" stroke-linejoin="miter"/>
<polygon points="1705.6,376.0 1722.4,376.0 1714.0,387.0" fill="#21712C" stroke="#E3AB00" stroke-width="2.0" stroke-linejoin="miter"/>
<path d="M1714,387 V394.6 M1704.6,394.6 H1722.7 L1719.2,400.2 H1709.2 Z" stroke="#E3AB00" stroke-width="2.0" fill="#21712C"/>
<path d="M899,163.5 L906,154.0 L913,163.5 Z" stroke="#14FF14" stroke-width="1.6" fill="none"/>
<path d="M899,364 L906,354.5 L913,364 Z" stroke="#14FF14" stroke-width="1.6" fill="none"/>
<g transform="translate(419.3,172.4)">
<polygon points="0,12.3 8.8,1.7 16,0 20.7,0 46.4,17.9 46.4,23 32.6,33.2 26.2,33.2 0,14" fill="#000"/>
<polygon points="1.7,12.6 9.4,3.2 13,6 12.6,11.5 7.5,14 4.9,15.3" fill="#9C9C9C"/>
<path d="M4.1,6.6 L9.6,2.1" stroke="#D0D0D0" stroke-width="1.3"/>
<polygon points="14.7,3.4 19.8,1.9 22,3.4 16.8,6" fill="#BEBEBE"/>
<polygon points="24.1,3.8 40.5,15.7 39,18.3 22.4,6" fill="#C6C6C6"/>
<polygon points="16.8,9.8 20.3,7.7 37.7,19.2 33,22.1" fill="#888888"/>
<polygon points="11.3,13.6 14.7,11.9 30,23.4 26.2,26.4" fill="#888888"/>
<polygon points="7.1,16.6 9.2,15.7 24.5,27.7 23.7,28.5" fill="#A8A8A8"/>
<polygon points="26.2,30.2 42.4,18.7 44.7,20.9 31.8,31.5" fill="#989898"/>
<polygon points="42.4,18.7 44.7,20.9 42.8,22.2 41.2,19.6" fill="#C8C8C8"/>
</g>
<ellipse cx="401.5" cy="162.5" rx="28" ry="20" fill="#21712C" stroke="#000" stroke-width="4.8"/>
<path d="M370.9,146.7 L370.9,140.7 L379.4,140.7 M422.8,140.7 L431.3,140.7 L431.3,146.7 M370.9,177.9 L370.9,183.9 L379.4,183.9 M422.8,183.9 L431.3,183.9 L431.3,177.9 " stroke="#8CC5A0" stroke-width="2" fill="none"/>
<path d="M382.0,162.5 L397.0,152.9 V160.1 H416.0 V164.9 H397.0 V172.1 Z" fill="#000"/>
<g transform="translate(105.9,696.3) scale(-1,1)">
<polygon points="0,12.3 8.8,1.7 16,0 20.7,0 46.4,17.9 46.4,23 32.6,33.2 26.2,33.2 0,14" fill="#000"/>
<polygon points="1.7,12.6 9.4,3.2 13,6 12.6,11.5 7.5,14 4.9,15.3" fill="#9C9C9C"/>
<path d="M4.1,6.6 L9.6,2.1" stroke="#D0D0D0" stroke-width="1.3"/>
<polygon points="14.7,3.4 19.8,1.9 22,3.4 16.8,6" fill="#BEBEBE"/>
<polygon points="24.1,3.8 40.5,15.7 39,18.3 22.4,6" fill="#C6C6C6"/>
<polygon points="16.8,9.8 20.3,7.7 37.7,19.2 33,22.1" fill="#888888"/>
<polygon points="11.3,13.6 14.7,11.9 30,23.4 26.2,26.4" fill="#888888"/>
<polygon points="7.1,16.6 9.2,15.7 24.5,27.7 23.7,28.5" fill="#A8A8A8"/>
<polygon points="26.2,30.2 42.4,18.7 44.7,20.9 31.8,31.5" fill="#989898"/>
<polygon points="42.4,18.7 44.7,20.9 42.8,22.2 41.2,19.6" fill="#C8C8C8"/>
</g>
<ellipse cx="120.5" cy="684.3" rx="28" ry="20" fill="#21712C" stroke="#000" stroke-width="4.8"/>
<path d="M89.9,668.5 L89.9,662.5 L98.4,662.5 M141.8,662.5 L150.3,662.5 L150.3,668.5 M89.9,699.6999999999999 L89.9,705.6999999999999 L98.4,705.6999999999999 M141.8,705.6999999999999 L150.3,705.6999999999999 L150.3,699.6999999999999 " stroke="#8CC5A0" stroke-width="2" fill="none"/>
<path d="M139.5,684.3 L124.5,674.6999999999999 V681.9 H105.0 V686.6999999999999 H124.5 V693.9 Z" fill="#000"/>
<g transform="translate(1305.9,594.3) scale(-1,1)">
<polygon points="0,12.3 8.8,1.7 16,0 20.7,0 46.4,17.9 46.4,23 32.6,33.2 26.2,33.2 0,14" fill="#000"/>
<polygon points="1.7,12.6 9.4,3.2 13,6 12.6,11.5 7.5,14 4.9,15.3" fill="#9C9C9C"/>
<path d="M4.1,6.6 L9.6,2.1" stroke="#D0D0D0" stroke-width="1.3"/>
<polygon points="14.7,3.4 19.8,1.9 22,3.4 16.8,6" fill="#BEBEBE"/>
<polygon points="24.1,3.8 40.5,15.7 39,18.3 22.4,6" fill="#C6C6C6"/>
<polygon points="16.8,9.8 20.3,7.7 37.7,19.2 33,22.1" fill="#888888"/>
<polygon points="11.3,13.6 14.7,11.9 30,23.4 26.2,26.4" fill="#888888"/>
<polygon points="7.1,16.6 9.2,15.7 24.5,27.7 23.7,28.5" fill="#A8A8A8"/>
<polygon points="26.2,30.2 42.4,18.7 44.7,20.9 31.8,31.5" fill="#989898"/>
<polygon points="42.4,18.7 44.7,20.9 42.8,22.2 41.2,19.6" fill="#C8C8C8"/>
</g>
<ellipse cx="1320.6" cy="582.5" rx="28" ry="20" fill="#21712C" stroke="#000" stroke-width="4.8"/>
<path d="M1290.0,566.7 L1290.0,560.7 L1298.5,560.7 M1341.8999999999999,560.7 L1350.3999999999999,560.7 L1350.3999999999999,566.7 M1290.0,597.9 L1290.0,603.9 L1298.5,603.9 M1341.8999999999999,603.9 L1350.3999999999999,603.9 L1350.3999999999999,597.9 " stroke="#8CC5A0" stroke-width="2" fill="none"/>
<path d="M1320.6,569.0 L1307.8,580.0 H1318.1 V593.0 H1323.1 V580.0 H1333.3999999999999 Z" fill="#000"/>
<g transform="translate(1425.9,594.3) scale(-1,1)">
<polygon points="0,12.3 8.8,1.7 16,0 20.7,0 46.4,17.9 46.4,23 32.6,33.2 26.2,33.2 0,14" fill="#000"/>
<polygon points="1.7,12.6 9.4,3.2 13,6 12.6,11.5 7.5,14 4.9,15.3" fill="#9C9C9C"/>
<path d="M4.1,6.6 L9.6,2.1" stroke="#D0D0D0" stroke-width="1.3"/>
<polygon points="14.7,3.4 19.8,1.9 22,3.4 16.8,6" fill="#BEBEBE"/>
<polygon points="24.1,3.8 40.5,15.7 39,18.3 22.4,6" fill="#C6C6C6"/>
<polygon points="16.8,9.8 20.3,7.7 37.7,19.2 33,22.1" fill="#888888"/>
<polygon points="11.3,13.6 14.7,11.9 30,23.4 26.2,26.4" fill="#888888"/>
<polygon points="7.1,16.6 9.2,15.7 24.5,27.7 23.7,28.5" fill="#A8A8A8"/>
<polygon points="26.2,30.2 42.4,18.7 44.7,20.9 31.8,31.5" fill="#989898"/>
<polygon points="42.4,18.7 44.7,20.9 42.8,22.2 41.2,19.6" fill="#C8C8C8"/>
</g>
<ellipse cx="1440.6" cy="582.5" rx="28" ry="20" fill="#21712C" stroke="#E3AB00" stroke-width="4.8"/>
<path d="M1410.0,566.7 L1410.0,560.7 L1418.5,560.7 M1461.8999999999999,560.7 L1470.3999999999999,560.7 L1470.3999999999999,566.7 M1410.0,597.9 L1410.0,603.9 L1418.5,603.9 M1461.8999999999999,603.9 L1470.3999999999999,603.9 L1470.3999999999999,597.9 " stroke="#8CC5A0" stroke-width="2" fill="none"/>
<path d="M1440.6,569.0 L1427.8,580.0 H1438.1 V593.0 H1443.1 V580.0 H1453.3999999999999 Z" fill="#E3AB00"/>
<g transform="translate(1103.4,747.8) scale(-1,1)">
<polygon points="0,12.3 8.8,1.7 16,0 20.7,0 46.4,17.9 46.4,23 32.6,33.2 26.2,33.2 0,14" fill="#000"/>
<polygon points="1.7,12.6 9.4,3.2 13,6 12.6,11.5 7.5,14 4.9,15.3" fill="#9C9C9C"/>
<path d="M4.1,6.6 L9.6,2.1" stroke="#D0D0D0" stroke-width="1.3"/>
<polygon points="14.7,3.4 19.8,1.9 22,3.4 16.8,6" fill="#BEBEBE"/>
<polygon points="24.1,3.8 40.5,15.7 39,18.3 22.4,6" fill="#C6C6C6"/>
<polygon points="16.8,9.8 20.3,7.7 37.7,19.2 33,22.1" fill="#888888"/>
<polygon points="11.3,13.6 14.7,11.9 30,23.4 26.2,26.4" fill="#888888"/>
<polygon points="7.1,16.6 9.2,15.7 24.5,27.7 23.7,28.5" fill="#A8A8A8"/>
<polygon points="26.2,30.2 42.4,18.7 44.7,20.9 31.8,31.5" fill="#989898"/>
<polygon points="42.4,18.7 44.7,20.9 42.8,22.2 41.2,19.6" fill="#C8C8C8"/>
</g>
<ellipse cx="1118.3" cy="734.5" rx="28" ry="20" fill="#21712C" stroke="#000" stroke-width="4.8"/>
<path d="M1087.7,718.7 L1087.7,712.7 L1096.2,712.7 M1139.6,712.7 L1148.1,712.7 L1148.1,718.7 M1087.7,749.9 L1087.7,755.9 L1096.2,755.9 M1139.6,755.9 L1148.1,755.9 L1148.1,749.9 " stroke="#8CC5A0" stroke-width="2" fill="none"/>
<path d="M1137.3,734.5 L1122.3,724.9 V732.1 H1102.8 V736.9 H1122.3 V744.1 Z" fill="#000"/>
<g transform="translate(1103.4,864.8) scale(-1,1)">
<polygon points="0,12.3 8.8,1.7 16,0 20.7,0 46.4,17.9 46.4,23 32.6,33.2 26.2,33.2 0,14" fill="#000"/>
<polygon points="1.7,12.6 9.4,3.2 13,6 12.6,11.5 7.5,14 4.9,15.3" fill="#9C9C9C"/>
<path d="M4.1,6.6 L9.6,2.1" stroke="#D0D0D0" stroke-width="1.3"/>
<polygon points="14.7,3.4 19.8,1.9 22,3.4 16.8,6" fill="#BEBEBE"/>
<polygon points="24.1,3.8 40.5,15.7 39,18.3 22.4,6" fill="#C6C6C6"/>
<polygon points="16.8,9.8 20.3,7.7 37.7,19.2 33,22.1" fill="#888888"/>
<polygon points="11.3,13.6 14.7,11.9 30,23.4 26.2,26.4" fill="#888888"/>
<polygon points="7.1,16.6 9.2,15.7 24.5,27.7 23.7,28.5" fill="#A8A8A8"/>
<polygon points="26.2,30.2 42.4,18.7 44.7,20.9 31.8,31.5" fill="#989898"/>
<polygon points="42.4,18.7 44.7,20.9 42.8,22.2 41.2,19.6" fill="#C8C8C8"/>
</g>
<ellipse cx="1118.3" cy="852.3" rx="28" ry="20" fill="#21712C" stroke="#E3AB00" stroke-width="4.8"/>
<path d="M1087.7,836.5 L1087.7,830.5 L1096.2,830.5 M1139.6,830.5 L1148.1,830.5 L1148.1,836.5 M1087.7,867.6999999999999 L1087.7,873.6999999999999 L1096.2,873.6999999999999 M1139.6,873.6999999999999 L1148.1,873.6999999999999 L1148.1,867.6999999999999 " stroke="#8CC5A0" stroke-width="2" fill="none"/>
<path d="M1137.3,852.3 L1122.3,842.6999999999999 V849.9 H1102.8 V854.6999999999999 H1122.3 V861.9 Z" fill="#E3AB00"/>
<rect x="670.4" y="132.2" width="16.300000000000068" height="59.400000000000006" fill="#000"/>
<rect x="675" y="147" width="9.100000000000023" height="42.900000000000006" fill="#DDA60A"/>
<rect x="664.5" y="137.4" width="6.199999999999932" height="6.300000000000011" fill="#000"/>
<rect x="664.5" y="138.9" width="6.199999999999932" height="3.3000000000000114" fill="#C4C4C4"/>
<rect x="664.5" y="182.8" width="6.199999999999932" height="6.300000000000011" fill="#000"/>
<rect x="664.5" y="184.3" width="6.199999999999932" height="3.3000000000000114" fill="#C4C4C4"/>
<rect x="599.3" y="129.3" width="65.5" height="62.599999999999994" fill="#000"/>
<rect x="605.0999999999999" y="133.70000000000002" width="57.80000000000007" height="56.19999999999999" fill="#ABABAB"/>
<rect x="601.1999999999999" y="132.9" width="2.2000000000000455" height="57.0" fill="#989898"/>
<rect x="604.0999999999999" y="131.10000000000002" width="56.10000000000002" height="0.8999999999999773" fill="#989898"/>
<polygon points="661.4,129.10000000000002 665.0,129.10000000000002 665.0,132.70000000000002" fill="#21712C"/>
<polygon points="599.0999999999999,188.9 599.0999999999999,192.1 602.9,192.1" fill="#21712C"/>
<text x="615.9" y="145.6" textLength="27.6" lengthAdjust="spacingAndGlyphs" class="k">Cyl.</text>
<text x="615.8" y="158.5" textLength="29.7" lengthAdjust="spacingAndGlyphs" class="k">Sto.</text>
<text x="612.5" y="172.6" textLength="36.3" lengthAdjust="spacingAndGlyphs" class="k">Tank</text>
<text x="608.0" y="188.5" textLength="44.5" lengthAdjust="spacingAndGlyphs" class="k">8. 5 m</text>
<text x="655.2" y="184.1" textLength="7.8" lengthAdjust="spacingAndGlyphs" class="k">3</text>
<rect x="78" y="220.2" width="16.799999999999997" height="60.80000000000001" fill="#000"/>
<rect x="83" y="231.9" width="9.099999999999994" height="46.099999999999994" fill="#DDA60A"/>
<rect x="94.5" y="223.7" width="6.0" height="6.300000000000011" fill="#000"/>
<rect x="94.5" y="225.2" width="6.0" height="3.3000000000000114" fill="#C4C4C4"/>
<rect x="94.5" y="268.7" width="6.0" height="6.300000000000011" fill="#000"/>
<rect x="94.5" y="270.2" width="6.0" height="3.3000000000000114" fill="#C4C4C4"/>
<rect x="100" y="217.3" width="70" height="63.69999999999999" fill="#000"/>
<rect x="105.8" y="221.70000000000002" width="62.3" height="57.29999999999998" fill="#ABABAB"/>
<rect x="101.9" y="220.9" width="2.1999999999999886" height="58.099999999999994" fill="#989898"/>
<rect x="104.8" y="219.10000000000002" width="60.60000000000001" height="0.8999999999999773" fill="#989898"/>
<polygon points="166.6,217.10000000000002 170.2,217.10000000000002 170.2,220.70000000000002" fill="#21712C"/>
<polygon points="99.8,278 99.8,281.2 103.6,281.2" fill="#21712C"/>
<text x="116.7" y="233.6" textLength="27.9" lengthAdjust="spacingAndGlyphs" class="k">Cyl.</text>
<text x="117.0" y="247.6" textLength="27.2" lengthAdjust="spacingAndGlyphs" class="k">Day</text>
<text x="114.0" y="260.6" textLength="36.7" lengthAdjust="spacingAndGlyphs" class="k">Tank</text>
<text x="108.1" y="276.5" textLength="48.9" lengthAdjust="spacingAndGlyphs" class="k">0. 21m</text>
<text x="160.0" y="271.9" textLength="8.1" lengthAdjust="spacingAndGlyphs" class="k">3</text>
<rect x="715" y="581.1" width="16.899999999999977" height="68.89999999999998" fill="#000"/>
<rect x="720" y="613.9" width="9.100000000000023" height="33.0" fill="#DDA60A"/>
<rect x="731.6" y="584.6" width="7.699999999999932" height="5.899999999999977" fill="#000"/>
<rect x="731.6" y="586.1" width="7.699999999999932" height="2.8999999999999773" fill="#C4C4C4"/>
<rect x="731.6" y="637.7" width="7.699999999999932" height="5.899999999999977" fill="#000"/>
<rect x="731.6" y="639.2" width="7.699999999999932" height="2.8999999999999773" fill="#C4C4C4"/>
<rect x="738.3" y="578.3" width="76.70000000000005" height="71.70000000000005" fill="#000"/>
<rect x="744.0999999999999" y="582.6999999999999" width="69.00000000000011" height="65.30000000000007" fill="#ABABAB"/>
<rect x="740.1999999999999" y="581.9" width="2.2000000000000455" height="66.10000000000002" fill="#989898"/>
<rect x="743.0999999999999" y="580.0999999999999" width="67.30000000000007" height="0.900000000000091" fill="#989898"/>
<polygon points="811.6,578.0999999999999 815.2,578.0999999999999 815.2,581.6999999999999" fill="#21712C"/>
<polygon points="738.0999999999999,647 738.0999999999999,650.2 741.9,650.2" fill="#21712C"/>
<text x="758.8" y="597.5" textLength="38.2" lengthAdjust="spacingAndGlyphs" class="k">Cam.</text>
<text x="765.0" y="610.5" textLength="20.5" lengthAdjust="spacingAndGlyphs" class="k">LO</text>
<text x="755.8" y="624.3" textLength="36.0" lengthAdjust="spacingAndGlyphs" class="k">Tank</text>
<text x="753.3" y="642.5" textLength="46.0" lengthAdjust="spacingAndGlyphs" class="k">1. 5 m</text>
<text x="802.0" y="638.3" textLength="8.5" lengthAdjust="spacingAndGlyphs" class="k">3</text>
<rect x="194" y="739" width="16.900000000000006" height="61" fill="#000"/>
<rect x="199" y="758.1" width="9.099999999999994" height="39.19999999999993" fill="#DDA60A"/>
<rect x="210.6" y="741.6" width="7.200000000000017" height="6.2999999999999545" fill="#000"/>
<rect x="210.6" y="743.1" width="7.200000000000017" height="3.2999999999999545" fill="#C4C4C4"/>
<rect x="210.6" y="787.5" width="7.200000000000017" height="6.2999999999999545" fill="#000"/>
<rect x="210.6" y="789" width="7.200000000000017" height="3.2999999999999545" fill="#C4C4C4"/>
<rect x="216.9" y="736.3" width="193.1" height="63.700000000000045" fill="#000"/>
<rect x="222.70000000000002" y="740.6999999999999" width="185.4" height="57.30000000000007" fill="#ABABAB"/>
<rect x="218.8" y="739.9" width="2.1999999999999886" height="58.10000000000002" fill="#989898"/>
<rect x="221.70000000000002" y="738.0999999999999" width="183.69999999999996" height="0.900000000000091" fill="#989898"/>
<polygon points="406.6,736.0999999999999 410.2,736.0999999999999 410.2,739.6999999999999" fill="#21712C"/>
<polygon points="216.70000000000002,797 216.70000000000002,800.2 220.5,800.2" fill="#21712C"/>
<text x="270.6" y="757.8" textLength="54.7" lengthAdjust="spacingAndGlyphs" class="k">Service</text>
<text x="286.5" y="771.9" textLength="36.6" lengthAdjust="spacingAndGlyphs" class="k">Tank</text>
<text x="286.0" y="792.8" textLength="38.0" lengthAdjust="spacingAndGlyphs" class="k">58 m</text>
<text x="328.1" y="789.0" textLength="6.9" lengthAdjust="spacingAndGlyphs" class="k">3</text>
<rect x="1158.4" y="390" width="8.599999999999909" height="5.199999999999989" fill="#DDA60A" stroke="#000" stroke-width="2"/>
<rect x="1282" y="390" width="8.5" height="5.199999999999989" fill="#DDA60A" stroke="#000" stroke-width="2"/>
<rect x="1177.6" y="386" width="7.800000000000182" height="6.800000000000011" fill="#2E8CFF" stroke="#000" stroke-width="2"/>
<rect x="1263.4" y="386" width="8.199999999999818" height="6.800000000000011" fill="#2E8CFF" stroke="#000" stroke-width="2"/>
<rect x="1174.5" y="363" width="100.09999999999991" height="26.19999999999999" fill="#2E8CFF" stroke="#000" stroke-width="2.2"/>
<path d="M1174.5,368.2 H1274.6" stroke="#000" stroke-width="2.1"/>
<path d="M1174.5,373.4 H1274.6" stroke="#000" stroke-width="2.1"/>
<path d="M1174.5,378.8 H1274.6" stroke="#000" stroke-width="2.1"/>
<path d="M1174.5,384 H1274.6" stroke="#000" stroke-width="2.1"/>
<rect x="1151.2" y="359.9" width="22.4" height="32.5" rx="5.5" ry="5.5" fill="#DDA60A" stroke="#000" stroke-width="2"/>
<rect x="1275.5" y="359.9" width="22" height="32.5" rx="5.5" ry="5.5" fill="#DDA60A" stroke="#000" stroke-width="2"/>
<rect x="1159.4" y="388" width="6.599999999999909" height="6.199999999999989" fill="#DDA60A"/>
<rect x="1283" y="388" width="6.5" height="6.199999999999989" fill="#DDA60A"/>
<rect x="1178.6" y="387" width="5.800000000000182" height="4.800000000000011" fill="#2E8CFF"/>
<rect x="1264.4" y="387" width="6.199999999999818" height="4.800000000000011" fill="#2E8CFF"/>
<rect x="1593.6" y="566" width="6.400000000000091" height="4.7999999999999545" fill="#DDA60A" stroke="#000" stroke-width="1.9"/>
<rect x="1593.6" y="654.4" width="6.400000000000091" height="4.800000000000068" fill="#DDA60A" stroke="#000" stroke-width="1.9"/>
<rect x="1597.8" y="578.6" width="5.2000000000000455" height="6.0" fill="#2E8CFF" stroke="#000" stroke-width="1.8"/>
<rect x="1597.8" y="640.4" width="5.2000000000000455" height="5.0" fill="#2E8CFF" stroke="#000" stroke-width="1.8"/>
<rect x="1601" y="577" width="38.40000000000009" height="71.79999999999995" fill="#2E8CFF" stroke="#000" stroke-width="1.9"/>
<path d="M1609.0,577 V649" stroke="#000" stroke-width="1.9"/>
<path d="M1615.9,577 V649" stroke="#000" stroke-width="1.9"/>
<path d="M1624.0,577 V649" stroke="#000" stroke-width="1.9"/>
<path d="M1631.1,577 V649" stroke="#000" stroke-width="1.9"/>
<rect x="1598" y="561.2" width="45" height="14.8" rx="4.5" ry="4.5" fill="#DDA60A" stroke="#000" stroke-width="2"/>
<rect x="1598" y="650.2" width="45" height="14.4" rx="4.5" ry="4.5" fill="#DDA60A" stroke="#000" stroke-width="2"/>
<rect x="1594.6" y="567" width="5.400000000000091" height="2.7999999999999545" fill="#DDA60A"/>
<rect x="1594.6" y="655.4" width="5.400000000000091" height="2.800000000000068" fill="#DDA60A"/>
<rect x="1698.6" y="566" width="6.400000000000091" height="4.7999999999999545" fill="#DDA60A" stroke="#000" stroke-width="1.9"/>
<rect x="1698.6" y="654.4" width="6.400000000000091" height="4.800000000000068" fill="#DDA60A" stroke="#000" stroke-width="1.9"/>
<rect x="1702.8" y="578.6" width="5.2000000000000455" height="6.0" fill="#2E8CFF" stroke="#000" stroke-width="1.8"/>
<rect x="1702.8" y="640.4" width="5.2000000000000455" height="5.0" fill="#2E8CFF" stroke="#000" stroke-width="1.8"/>
<rect x="1706" y="577" width="38.40000000000009" height="71.79999999999995" fill="#2E8CFF" stroke="#000" stroke-width="1.9"/>
<path d="M1714.0,577 V649" stroke="#000" stroke-width="1.9"/>
<path d="M1720.9,577 V649" stroke="#000" stroke-width="1.9"/>
<path d="M1729.0,577 V649" stroke="#000" stroke-width="1.9"/>
<path d="M1736.1,577 V649" stroke="#000" stroke-width="1.9"/>
<rect x="1703" y="561.2" width="45" height="14.8" rx="4.5" ry="4.5" fill="#DDA60A" stroke="#000" stroke-width="2"/>
<rect x="1703" y="650.2" width="45" height="14.4" rx="4.5" ry="4.5" fill="#DDA60A" stroke="#000" stroke-width="2"/>
<rect x="1699.6" y="567" width="5.400000000000091" height="2.7999999999999545" fill="#DDA60A"/>
<rect x="1699.6" y="655.4" width="5.400000000000091" height="2.800000000000068" fill="#DDA60A"/>
<polygon points="408.2,274.4 408.2,295.6 402.4,320.8 397.7,321.0 397.7,330.0 437.0,332.0 446.5,337.4 451.2,327.5 446.5,327.0 444.4,295.6 444.4,274.4" fill="#828282" stroke="#000" stroke-width="1.8" stroke-linejoin="miter"/>
<ellipse cx="426.3" cy="274.4" rx="18.1" ry="14.2" fill="#828282" stroke="#000" stroke-width="1.8"/>
<path d="M408.2,295.6 H444.4 M437,327 H446.5" stroke="#000" stroke-width="1.8"/>
<rect x="397.7" y="356" width="40.10000000000002" height="12.800000000000011" fill="#828282" stroke="#000" stroke-width="1.8"/>
<polygon points="349.7,340.0 353.6,350.7 353.6,367.3 375.6,367.3 375.6,350.7 378.8,340.0" fill="#828282" stroke="#000" stroke-width="1.8" stroke-linejoin="miter"/>
<polygon points="347.0,368.8 435.5,368.8 435.5,376.0 424.4,376.0 410.3,403.5 420.5,408.2 422.5,416.0 347.0,415.0" fill="#828282" stroke="#000" stroke-width="1.8" stroke-linejoin="miter"/>
<polygon points="368.8,446.0 422.5,446.0 419.0,458.0 388.0,466.8 374.8,466.5" fill="#A9A9A9" stroke="#000" stroke-width="1.8" stroke-linejoin="miter"/>
<rect x="368.8" y="416" width="53.69999999999999" height="30" fill="#A9A9A9" stroke="#000" stroke-width="1.8"/>
<polygon points="239.9,364.4 288.5,364.4 288.5,411.7 253.8,411.7 239.9,395.0" fill="#828282" stroke="#000" stroke-width="1.9" stroke-linejoin="miter"/>
<polygon points="220.6,359.8 289.0,359.8 289.0,364.2 220.6,364.2" fill="#828282" stroke="#000" stroke-width="1.9" stroke-linejoin="miter"/>
<polygon points="261.4,421.8 282.0,424.5 277.8,441.0" fill="#828282" stroke="#000" stroke-width="1.7" stroke-linejoin="miter"/>
<polygon points="220.6,413.2 289.0,413.2 280.5,424.0 220.6,415.8" fill="#828282" stroke="#000" stroke-width="1.7" stroke-linejoin="miter"/>
<rect x="300" y="345" width="35" height="15.5" fill="#828282" stroke="#000" stroke-width="1.8"/>
<rect x="296" y="335.5" width="42.80000000000001" height="9.5" fill="#828282" stroke="#000" stroke-width="1.8"/>
<rect x="325.5" y="323.8" width="9.5" height="11.699999999999989" fill="#828282" stroke="#000" stroke-width="1.9"/>
<rect x="308" y="323.8" width="17.5" height="11.699999999999989" fill="#828282" stroke="#000" stroke-width="1.8"/>
<rect x="311" y="315" width="12.800000000000011" height="8.800000000000011" fill="#828282" stroke="#000" stroke-width="1.8"/>
<rect x="314.5" y="306" width="6.5" height="9" fill="#828282" stroke="#000" stroke-width="1.8"/>
<path d="M314.5,309.6 H305.3 L276.7,350 V356" stroke="#000" stroke-width="5.2" fill="none" stroke-linejoin="miter"/>
<path d="M314.5,309.6 H305.3 L276.7,350 V356" stroke="#828282" stroke-width="2.2" fill="none" stroke-linejoin="miter"/>
<rect x="273.2" y="354.7" width="12.5" height="5.600000000000023" fill="#828282" stroke="#000" stroke-width="1.9"/>
<rect x="275.3" y="364.5" width="8.300000000000011" height="6.5" fill="#828282" stroke="#000" stroke-width="1.9"/>
<rect x="269.6" y="370.6" width="18.4" height="13.7" rx="4.5" ry="4.5" fill="#828282" stroke="#000" stroke-width="2.1"/>
<ellipse cx="279.2" cy="377.8" rx="6.4" ry="4.1" fill="#828282" stroke="#000" stroke-width="1.6"/>
<rect x="289.5" y="360.5" width="57.5" height="52.5" fill="#A9A9A9" stroke="#000" stroke-width="1.9"/>
<polygon points="289.5,413.0 347.0,413.0 377.0,491.0 258.8,491.0" fill="#A9A9A9" stroke="#000" stroke-width="1.9" stroke-linejoin="miter"/>
<polygon points="280.0,542.0 353.8,542.0 353.8,550.0 342.5,558.0 292.5,558.0 280.0,550.0" fill="#828282" stroke="#000" stroke-width="1.9" stroke-linejoin="miter"/>
<rect x="258.8" y="491" width="118.19999999999999" height="51" fill="#A9A9A9" stroke="#000" stroke-width="1.9"/>
<ellipse cx="364.6" cy="322.8" rx="29.9" ry="20.1" fill="#A9A9A9" stroke="#000" stroke-width="1.9"/>
<ellipse cx="416.2" cy="344.4" rx="29.5" ry="19.7" fill="#A9A9A9" stroke="#000" stroke-width="1.9"/>
<ellipse cx="369.4" cy="392.5" rx="21.2" ry="15.7" fill="#A9A9A9" stroke="#000" stroke-width="1.9"/>
<text x="345.5" y="322.5" textLength="28.3" lengthAdjust="spacingAndGlyphs" class="k">Exh</text>
<text x="346.0" y="332.5" textLength="27.8" lengthAdjust="spacingAndGlyphs" class="k">Rec</text>
<text x="407.0" y="348.8" textLength="18.0" lengthAdjust="spacingAndGlyphs" class="k">TC</text>
<text x="354.5" y="391.8" textLength="20.5" lengthAdjust="spacingAndGlyphs" class="k">Air</text>
<text x="353.8" y="402.5" textLength="27.2" lengthAdjust="spacingAndGlyphs" class="k">Rec</text>
<text x="380.0" y="432.0" textLength="21.0" lengthAdjust="spacingAndGlyphs" class="k">Air</text>
<text x="371.8" y="442.5" textLength="33.7" lengthAdjust="spacingAndGlyphs" class="k">Cool</text>
<text x="296.0" y="453.8" textLength="36.0" lengthAdjust="spacingAndGlyphs" class="k">Main</text>
<text x="285.5" y="466.8" textLength="52.0" lengthAdjust="spacingAndGlyphs" class="k">Engine</text>
<rect x="194.5" y="434.4" width="24.5" height="57.30000000000001" fill="#000"/>
<rect x="200.3" y="438.79999999999995" width="16.799999999999983" height="50.900000000000034" fill="#ABABAB"/>
<rect x="196.4" y="438.0" width="2.1999999999999886" height="51.69999999999999" fill="#989898"/>
<rect x="199.3" y="436.2" width="15.099999999999994" height="0.8999999999999773" fill="#989898"/>
<polygon points="215.6,434.2 219.2,434.2 219.2,437.79999999999995" fill="#21712C"/>
<polygon points="194.3,488.7 194.3,491.9 198.1,491.9" fill="#21712C"/>
<path d="M256.1,443.5 Q258.836,438.9 263.3,438.9 Q267.764,438.9 270.5,443.5 Q267.764,448.1 263.3,448.1 Q258.836,448.1 256.1,443.5 Z" fill="#DDA60A" stroke="#000" stroke-width="1.7" stroke-linejoin="round"/>
<path d="M252.2,454.2 Q254.93599999999998,449.59999999999997 259.4,449.59999999999997 Q263.864,449.59999999999997 266.59999999999997,454.2 Q263.864,458.8 259.4,458.8 Q254.93599999999998,458.8 252.2,454.2 Z" fill="#DDA60A" stroke="#000" stroke-width="1.7" stroke-linejoin="round"/>
<path d="M247.79999999999998,464.2 Q250.76399999999998,458.9 255.6,458.9 Q260.436,458.9 263.4,464.2 Q260.436,469.5 255.6,469.5 Q250.76399999999998,469.5 247.79999999999998,464.2 Z" fill="#DDA60A" stroke="#000" stroke-width="1.7" stroke-linejoin="round"/>
<path d="M244.3,475.2 Q247.036,470.59999999999997 251.5,470.59999999999997 Q255.964,470.59999999999997 258.7,475.2 Q255.964,479.8 251.5,479.8 Q247.036,479.8 244.3,475.2 Z" fill="#DDA60A" stroke="#000" stroke-width="1.7" stroke-linejoin="round"/>
<path d="M241,486.3 Q243.66,481.8 248,481.8 Q252.34,481.8 255,486.3 Q252.34,490.8 248,490.8 Q243.66,490.8 241,486.3 Z" fill="#DDA60A" stroke="#000" stroke-width="1.7" stroke-linejoin="round"/>
<path d="M462.1,347.5 Q464.836,342.7 469.3,342.7 Q473.764,342.7 476.5,347.5 Q473.764,352.3 469.3,352.3 Q464.836,352.3 462.1,347.5 Z" fill="#DDA60A" stroke="#000" stroke-width="1.7" stroke-linejoin="round"/>
<path d="M443.2,408.2 Q445.936,403.3 450.4,403.3 Q454.864,403.3 457.59999999999997,408.2 Q454.864,413.09999999999997 450.4,413.09999999999997 Q445.936,413.09999999999997 443.2,408.2 Z" fill="#DDA60A" stroke="#000" stroke-width="1.7" stroke-linejoin="round"/>
<path d="M420.79999999999995,472.4 Q423.688,466.5 428.4,466.5 Q433.11199999999997,466.5 436.0,472.4 Q433.11199999999997,478.29999999999995 428.4,478.29999999999995 Q423.688,478.29999999999995 420.79999999999995,472.4 Z" fill="#DDA60A" stroke="#000" stroke-width="1.7" stroke-linejoin="round"/>
<path d="M387.0,542.2 Q389.81199999999995,536.9000000000001 394.4,536.9000000000001 Q398.988,536.9000000000001 401.79999999999995,542.2 Q398.988,547.5 394.4,547.5 Q389.81199999999995,547.5 387.0,542.2 Z" fill="#DDA60A" stroke="#000" stroke-width="1.7" stroke-linejoin="round"/>
<rect x="1611" y="146" width="224.5" height="40" fill="#1A5A24"/>
<rect x="1604" y="140.5" width="224" height="41.5" fill="#E9D0A6"/>
<path d="M1604,182 V140.5 H1828 L1826.4,142.1 H1605.6 V180.4 Z" fill="#FFF8E8"/>
<path d="M1604,182 H1828 V140.5 L1826.4,142.1 V180.4 H1605.6 Z" fill="#000"/>
<text x="1617.0" y="156.3" textLength="41.8" lengthAdjust="spacingAndGlyphs" class="kb">Temp</text>
<text x="1620.5" y="170.5" textLength="28.3" lengthAdjust="spacingAndGlyphs" class="kb">Ctr.</text>
<rect x="1683" y="142.5" width="54" height="17.0" fill="#B39C71"/>
<path d="M1683,159.5 V142.5 H1737 L1735.2,144.3 H1684.8 V157.7 Z" fill="#000"/><path d="M1683,159.5 H1737 V142.5 L1735.2,144.3 V157.7 H1684.8 Z" fill="#FFF8E8"/>
<text x="1690.8" y="157.0" textLength="39.2" lengthAdjust="spacingAndGlyphs" class="k" style="fill:#FFFF00;stroke:none">AUTO</text>
<rect x="1683" y="162" width="54" height="17" fill="#E9D0A6"/>
<path d="M1683,179 V162 H1737 L1735.4,163.6 H1684.6 V177.4 Z" fill="#FFF8E8"/>
<path d="M1683,179 H1737 V162 L1735.4,163.6 V177.4 H1684.6 Z" fill="#000"/>
<text x="1697.5" y="176.3" textLength="29.5" lengthAdjust="spacingAndGlyphs" class="k">MAN</text>
<rect x="1739.5" y="142.5" width="85.5" height="17.5" fill="#B39C71" stroke="#000" stroke-width="2"/>
<path d="M1745.5,147.0 L1752.0,151.7 L1745.5,156.5 Z" fill="#000"/>
<text x="1760.0" y="156.5" textLength="43.0" lengthAdjust="spacingAndGlyphs" class="k">45.00</text>
<rect x="1739.5" y="162.5" width="85.5" height="17.0" fill="#B39C71" stroke="#000" stroke-width="2"/>
<path d="M1745.5,165.3 L1752.0,170.0 L1745.5,174.8 Z" fill="#000"/>
<text x="1764.5" y="174.8" textLength="33.5" lengthAdjust="spacingAndGlyphs" class="k">0.00</text>
<rect x="1364" y="322" width="172" height="42" fill="#1A5A24"/>
<rect x="1357.5" y="316.3" width="170.5" height="43.0" fill="#E9D0A6"/>
<path d="M1357.5,359.3 V316.3 H1528 L1526.4,317.90000000000003 H1359.1 V357.7 Z" fill="#FFF8E8"/>
<path d="M1357.5,359.3 H1528 V316.3 L1526.4,317.90000000000003 V357.7 H1359.1 Z" fill="#000"/>
<path d="M1436.3,318 V357.5" stroke="#FFF8E8" stroke-width="1.7"/>
<text x="1370.0" y="332.5" textLength="47.0" lengthAdjust="spacingAndGlyphs" class="kb">Temp.</text>
<text x="1374.5" y="347.0" textLength="28.5" lengthAdjust="spacingAndGlyphs" class="kb">Ctr.</text>
<text x="1449.5" y="332.5" textLength="45.0" lengthAdjust="spacingAndGlyphs" class="kb">Setpt.</text>
<rect x="1439.8" y="338.9" width="84.0" height="16.900000000000034" fill="#B39C71" stroke="#000" stroke-width="2"/>
<path d="M1445.8,342.1 L1452.3,346.8 L1445.8,351.6 Z" fill="#000"/>
<text x="1460.0" y="351.6" textLength="43.0" lengthAdjust="spacingAndGlyphs" class="k">50.00</text>
<rect x="1052" y="523" width="92" height="22" fill="#1A5A24"/>
<rect x="1045" y="517.5" width="91" height="22.0" fill="#FFF8E8"/>
<path d="M1045,539.5 V517.5 H1136 L1134.6,518.9 H1046.4 V538.1 Z" fill="#FFF8E8"/>
<path d="M1045,539.5 H1136 V517.5 L1134.6,518.9 V538.1 H1046.4 Z" fill="#000"/>
<rect x="1048" y="519.5" width="86.5" height="18.5" fill="#B39C71" stroke="#000" stroke-width="2"/>
<path d="M1054,523.5 L1060.5,528.2 L1054,533 Z" fill="#000"/>
<text x="1075.0" y="533.0" textLength="33.0" lengthAdjust="spacingAndGlyphs" class="k">4.00</text>
<text x="319.5" y="130.0" textLength="125.0" lengthAdjust="spacingAndGlyphs" class="l">Cyl. LO Make Up</text>
<text x="503.8" y="157.0" textLength="48.7" lengthAdjust="spacingAndGlyphs" class="g">G 0.00</text>
<path d="M535,170.8 H548" stroke="#000" stroke-width="1.8"/><path d="M532.5,170.8 L538,167.60000000000002 V174.0 Z" fill="#000" stroke="#000" stroke-width="0.8" stroke-linejoin="round"/><ellipse cx="536.4" cy="170.8" rx="2.6" ry="2.7" fill="#000"/>
<text x="699.0" y="149.3" textLength="9.6" lengthAdjust="spacingAndGlyphs" class="G">L</text>
<text x="721.0" y="149.3" textLength="44.0" lengthAdjust="spacingAndGlyphs" class="G">0.80</text>
<text x="810.5" y="149.3" textLength="13.3" lengthAdjust="spacingAndGlyphs" class="A">A</text>
<text x="911.0" y="135.0" textLength="87.0" lengthAdjust="spacingAndGlyphs" class="l">Main Filters</text>
<text x="927.5" y="165.0" textLength="11.2" lengthAdjust="spacingAndGlyphs" class="G">P</text>
<text x="950.0" y="165.0" textLength="44.0" lengthAdjust="spacingAndGlyphs" class="G">0.00</text>
<text x="1039.5" y="165.0" textLength="13.5" lengthAdjust="spacingAndGlyphs" class="A">A</text>
<text x="1000.0" y="200.0" textLength="6.0" lengthAdjust="spacingAndGlyphs" class="l">1</text>
<text x="999.0" y="250.0" textLength="8.0" lengthAdjust="spacingAndGlyphs" class="l">2</text>
<text x="969.0" y="215.5" textLength="11.0" lengthAdjust="spacingAndGlyphs" class="k">M</text>
<text x="731.0" y="205.0" textLength="11.6" lengthAdjust="spacingAndGlyphs" class="G">T</text>
<text x="755.5" y="205.0" textLength="57.0" lengthAdjust="spacingAndGlyphs" class="G">45.03</text>
<text x="844.5" y="205.0" textLength="13.0" lengthAdjust="spacingAndGlyphs" class="A">A</text>
<text x="792.0" y="273.0" textLength="48.6" lengthAdjust="spacingAndGlyphs" class="g">G 0.00</text>
<path d="M772.5,263.4 V273.4" stroke="#000" stroke-width="1.9"/><path d="M772.5,275.4 L768.9,271.4 H776.1 Z" fill="#000"/><ellipse cx="772.5" cy="272.59999999999997" rx="4.3" ry="2.5" fill="#000"/>
<text x="1271.0" y="205.0" textLength="49.5" lengthAdjust="spacingAndGlyphs" class="g">P 5.02</text>
<text x="1651.0" y="110.5" textLength="57.0" lengthAdjust="spacingAndGlyphs" class="g">T 45.01</text>
<text x="1651.0" y="200.0" textLength="58.5" lengthAdjust="spacingAndGlyphs" class="g">Z 95.13</text>
<text x="1575.8" y="164.5" textLength="11.7" lengthAdjust="spacingAndGlyphs" class="k">M</text>
<text x="177.5" y="256.0" textLength="9.6" lengthAdjust="spacingAndGlyphs" class="G">L</text>
<text x="200.5" y="256.0" textLength="44.0" lengthAdjust="spacingAndGlyphs" class="G">0.88</text>
<text x="289.5" y="256.0" textLength="13.0" lengthAdjust="spacingAndGlyphs" class="A">A</text>
<text x="477.0" y="340.8" textLength="48.0" lengthAdjust="spacingAndGlyphs" class="g">G 3.85</text>
<path d="M553,338.8 H566" stroke="#000" stroke-width="1.8"/><path d="M550.5,338.8 L556,335.6 V342.0 Z" fill="#000" stroke="#000" stroke-width="0.8" stroke-linejoin="round"/><ellipse cx="554.4" cy="338.8" rx="2.6" ry="2.7" fill="#000"/>
<text x="477.0" y="362.5" textLength="47.5" lengthAdjust="spacingAndGlyphs" class="g">P 0.01</text>
<text x="477.0" y="402.5" textLength="48.0" lengthAdjust="spacingAndGlyphs" class="g">G 6.40</text>
<path d="M553,400 H566" stroke="#000" stroke-width="1.8"/><path d="M550.5,400 L556,396.8 V403.2 Z" fill="#000" stroke="#000" stroke-width="0.8" stroke-linejoin="round"/><ellipse cx="554.4" cy="400" rx="2.6" ry="2.7" fill="#000"/>
<text x="477.0" y="429.8" textLength="11.2" lengthAdjust="spacingAndGlyphs" class="G">P</text>
<text x="500.5" y="429.8" textLength="44.0" lengthAdjust="spacingAndGlyphs" class="G">3.20</text>
<text x="590.0" y="429.8" textLength="12.5" lengthAdjust="spacingAndGlyphs" class="A">A</text>
<text x="638.0" y="429.8" textLength="11.6" lengthAdjust="spacingAndGlyphs" class="G">T</text>
<text x="661.0" y="429.8" textLength="57.0" lengthAdjust="spacingAndGlyphs" class="G">37.02</text>
<text x="750.5" y="429.8" textLength="13.3" lengthAdjust="spacingAndGlyphs" class="A">A</text>
<text x="477.0" y="466.8" textLength="58.5" lengthAdjust="spacingAndGlyphs" class="g">T 37.02</text>
<path d="M498.8,480.8 H511.79999999999995" stroke="#000" stroke-width="1.8"/><path d="M514.3,480.8 L508.79999999999995,477.6 V484.0 Z" fill="#000" stroke="#000" stroke-width="0.8" stroke-linejoin="round"/><ellipse cx="510.4" cy="480.8" rx="2.6" ry="2.7" fill="#000"/>
<path d="M500.8,533.8 H513.8" stroke="#000" stroke-width="1.8"/><path d="M498.3,533.8 L503.8,530.5999999999999 V537.0 Z" fill="#000" stroke="#000" stroke-width="0.8" stroke-linejoin="round"/><ellipse cx="502.2" cy="533.8" rx="2.6" ry="2.7" fill="#000"/>
<text x="477.0" y="557.7" textLength="48.0" lengthAdjust="spacingAndGlyphs" class="g">G 0.00</text>
<text x="390.5" y="530.5" textLength="67.0" lengthAdjust="spacingAndGlyphs" class="l">Bearings</text>
<text x="631.0" y="533.5" textLength="11.2" lengthAdjust="spacingAndGlyphs" class="G">P</text>
<text x="654.0" y="533.5" textLength="44.0" lengthAdjust="spacingAndGlyphs" class="G">0.00</text>
<text x="113.8" y="479.5" textLength="48.2" lengthAdjust="spacingAndGlyphs" class="g">G 0.00</text>
<path d="M139,459 H152" stroke="#000" stroke-width="1.8"/><path d="M154.5,459 L149,455.8 V462.2 Z" fill="#000" stroke="#000" stroke-width="0.8" stroke-linejoin="round"/><ellipse cx="150.6" cy="459" rx="2.6" ry="2.7" fill="#000"/>
<text x="57.0" y="514.5" textLength="48.0" lengthAdjust="spacingAndGlyphs" class="g">G 0.00</text>
<path d="M37.5,504.5 V514.5" stroke="#000" stroke-width="1.9"/><path d="M37.5,516.5 L33.9,512.5 H41.1 Z" fill="#000"/><ellipse cx="37.5" cy="513.7" rx="4.3" ry="2.5" fill="#000"/>
<text x="15.5" y="541.5" textLength="20.0" lengthAdjust="spacingAndGlyphs" class="l">OF</text>
<text x="173.8" y="509.5" textLength="45.7" lengthAdjust="spacingAndGlyphs" class="l">Lubri-</text>
<text x="173.8" y="522.5" textLength="49.2" lengthAdjust="spacingAndGlyphs" class="l">Cators</text>
<path d="M25.5,577.5 L25.5,555 L68.8,555 L67.0,556.8 L27.3,556.8 L27.3,575.7 Z" fill="#7DBE8E"/>
<path d="M25.5,577.5 L68.8,577.5 L68.8,555 L67.0,556.8 L67.0,575.7 L27.3,575.7 Z" fill="#000"/>
<text x="32.8" y="571.7" textLength="28.7" lengthAdjust="spacingAndGlyphs" class="k">005</text>
<text x="83.3" y="563.0" textLength="52.2" lengthAdjust="spacingAndGlyphs" class="l">to Spill</text>
<text x="83.3" y="576.8" textLength="62.5" lengthAdjust="spacingAndGlyphs" class="l">Oil Tank</text>
<text x="894.0" y="338.8" textLength="115.0" lengthAdjust="spacingAndGlyphs" class="l">Cam. LO Filters</text>
<text x="927.5" y="365.0" textLength="11.2" lengthAdjust="spacingAndGlyphs" class="G">P</text>
<text x="950.0" y="365.0" textLength="44.0" lengthAdjust="spacingAndGlyphs" class="G">0.24</text>
<text x="1039.5" y="365.0" textLength="13.5" lengthAdjust="spacingAndGlyphs" class="A">A</text>
<text x="1000.0" y="399.5" textLength="6.0" lengthAdjust="spacingAndGlyphs" class="l">1</text>
<text x="999.0" y="450.5" textLength="8.0" lengthAdjust="spacingAndGlyphs" class="l">2</text>
<text x="969.0" y="415.5" textLength="11.0" lengthAdjust="spacingAndGlyphs" class="k">M</text>
<text x="1155.8" y="351.3" textLength="108.7" lengthAdjust="spacingAndGlyphs" class="l">Cam. LO Cool.</text>
<text x="1309.5" y="380.5" textLength="11.5" lengthAdjust="spacingAndGlyphs" class="k">M</text>
<path d="M1203,416.3 L1203,394.5 L1245.5,394.5 L1243.7,396.3 L1204.8,396.3 L1204.8,414.5 Z" fill="#7DBE8E"/>
<path d="M1203,416.3 L1245.5,416.3 L1245.5,394.5 L1243.7,396.3 L1243.7,414.5 L1204.8,414.5 Z" fill="#000"/>
<text x="1210.3" y="410.5" textLength="27.9" lengthAdjust="spacingAndGlyphs" class="k">010</text>
<path d="M1275,398 V408.5" stroke="#000" stroke-width="1.8"/><path d="M1275,396.4 L1270.8,401.2 H1279.2 Z" fill="#000"/>
<text x="1245.8" y="434.5" textLength="48.5" lengthAdjust="spacingAndGlyphs" class="g">G 0.00</text>
<text x="1215.5" y="461.3" textLength="48.8" lengthAdjust="spacingAndGlyphs" class="g">G 6.40</text>
<path d="M1236,475.5 H1249" stroke="#000" stroke-width="1.8"/><path d="M1233.5,475.5 L1239,472.3 V478.7 Z" fill="#000" stroke="#000" stroke-width="0.8" stroke-linejoin="round"/><ellipse cx="1237.4" cy="475.5" rx="2.6" ry="2.7" fill="#000"/>
<text x="1388.8" y="461.3" textLength="59.2" lengthAdjust="spacingAndGlyphs" class="g">T 37.02</text>
<text x="1388.8" y="477.0" textLength="48.7" lengthAdjust="spacingAndGlyphs" class="g">P 3.76</text>
<text x="1584.5" y="498.8" textLength="57.5" lengthAdjust="spacingAndGlyphs" class="g">T 31.47</text>
<text x="1689.5" y="498.8" textLength="58.0" lengthAdjust="spacingAndGlyphs" class="g">T 23.13</text>
<text x="1700.0" y="552.5" textLength="73.8" lengthAdjust="spacingAndGlyphs" class="L">Coolers</text>
<text x="1196.8" y="578.8" textLength="63.2" lengthAdjust="spacingAndGlyphs" class="l">Cam. LO</text>
<text x="1208.3" y="592.5" textLength="51.0" lengthAdjust="spacingAndGlyphs" class="l">Pumps</text>
<text x="1359.0" y="608.3" textLength="7.0" lengthAdjust="spacingAndGlyphs" class="l">1</text>
<text x="1478.8" y="608.3" textLength="8.7" lengthAdjust="spacingAndGlyphs" class="l">2</text>
<text x="1373.8" y="586.3" textLength="11.2" lengthAdjust="spacingAndGlyphs" class="k">M</text>
<path d="M1540,625.5 L1540,602.5 L1583.8,602.5 L1582.0,604.3 L1541.8,604.3 L1541.8,623.7 Z" fill="#7DBE8E"/>
<path d="M1540,625.5 L1583.8,625.5 L1583.8,602.5 L1582.0,604.3 L1582.0,623.7 L1541.8,623.7 Z" fill="#000"/>
<text x="1547.3" y="619.7" textLength="29.2" lengthAdjust="spacingAndGlyphs" class="k">010</text>
<text x="1665.8" y="618.8" textLength="11.7" lengthAdjust="spacingAndGlyphs" class="k">M</text>
<text x="1615.0" y="677.5" textLength="5.5" lengthAdjust="spacingAndGlyphs" class="l">1</text>
<text x="1718.8" y="677.5" textLength="8.7" lengthAdjust="spacingAndGlyphs" class="l">2</text>
<text x="1583.8" y="782.5" textLength="48.7" lengthAdjust="spacingAndGlyphs" class="g">G 2.53</text>
<text x="1688.8" y="782.5" textLength="48.7" lengthAdjust="spacingAndGlyphs" class="g">G 0.00</text>
<text x="1815.8" y="782.5" textLength="58.5" lengthAdjust="spacingAndGlyphs" class="g">G 93.62</text>
<path d="M1564.3,773 V783.5" stroke="#000" stroke-width="1.8"/><path d="M1564.3,771.4 L1560.1,776.2 H1568.5 Z" fill="#000"/>
<path d="M1669.3,773 V783.5" stroke="#000" stroke-width="1.8"/><path d="M1669.3,771.4 L1665.1,776.2 H1673.5 Z" fill="#000"/>
<path d="M1796.8,773 V783.5" stroke="#000" stroke-width="1.8"/><path d="M1796.8,771.4 L1792.6,776.2 H1801.0 Z" fill="#000"/>
<text x="1170.5" y="685.5" textLength="92.0" lengthAdjust="spacingAndGlyphs" class="l">Main Pumps</text>
<text x="1156.8" y="760.0" textLength="6.2" lengthAdjust="spacingAndGlyphs" class="l">1</text>
<text x="1155.8" y="875.5" textLength="8.5" lengthAdjust="spacingAndGlyphs" class="l">2</text>
<text x="1167.0" y="787.5" textLength="11.3" lengthAdjust="spacingAndGlyphs" class="k">M</text>
<text x="1280.0" y="790.5" textLength="48.3" lengthAdjust="spacingAndGlyphs" class="g">G 3.85</text>
<path d="M1358,788.3 H1371" stroke="#000" stroke-width="1.8"/><path d="M1373.5,788.3 L1368,785.0999999999999 V791.5 Z" fill="#000" stroke="#000" stroke-width="0.8" stroke-linejoin="round"/><ellipse cx="1369.6" cy="788.3" rx="2.6" ry="2.7" fill="#000"/>
<text x="1280.0" y="811.3" textLength="47.5" lengthAdjust="spacingAndGlyphs" class="g">P 4.21</text>
<text x="1280.8" y="830.5" textLength="56.2" lengthAdjust="spacingAndGlyphs" class="g">T 45.51</text>
<text x="679.5" y="616.3" textLength="11.8" lengthAdjust="spacingAndGlyphs" class="k">M</text>
<text x="822.0" y="589.5" textLength="58.5" lengthAdjust="spacingAndGlyphs" class="g">T 37.02</text>
<text x="822.0" y="605.5" textLength="48.0" lengthAdjust="spacingAndGlyphs" class="g">Z 0.00</text>
<text x="822.0" y="624.8" textLength="9.6" lengthAdjust="spacingAndGlyphs" class="G">L</text>
<text x="845.5" y="624.8" textLength="44.0" lengthAdjust="spacingAndGlyphs" class="G">0.55</text>
<text x="934.5" y="624.8" textLength="13.0" lengthAdjust="spacingAndGlyphs" class="A">A</text>
<text x="53.3" y="651.3" textLength="113.7" lengthAdjust="spacingAndGlyphs" class="l">Make Up Pump</text>
<text x="222.0" y="677.5" textLength="48.5" lengthAdjust="spacingAndGlyphs" class="g">G 0.00</text>
<path d="M229.5,692 H242.5" stroke="#000" stroke-width="1.8"/><path d="M245.0,692 L239.5,688.8 V695.2 Z" fill="#000" stroke="#000" stroke-width="0.8" stroke-linejoin="round"/><ellipse cx="241.1" cy="692" rx="2.6" ry="2.7" fill="#000"/>
<text x="323.8" y="616.3" textLength="48.7" lengthAdjust="spacingAndGlyphs" class="g">G 7.69</text>
<text x="323.8" y="632.5" textLength="58.2" lengthAdjust="spacingAndGlyphs" class="g">T 45.23</text>
<path d="M304.3,606 V616" stroke="#000" stroke-width="1.9"/><path d="M304.3,618 L300.7,614 H307.90000000000003 Z" fill="#000"/><ellipse cx="304.3" cy="615.2" rx="4.3" ry="2.5" fill="#000"/>
<text x="158.8" y="774.5" textLength="11.7" lengthAdjust="spacingAndGlyphs" class="k">M</text>
<text x="417.0" y="742.0" textLength="58.0" lengthAdjust="spacingAndGlyphs" class="g">T 45.09</text>
<text x="417.0" y="761.0" textLength="11.6" lengthAdjust="spacingAndGlyphs" class="G">Z</text>
<text x="440.5" y="761.0" textLength="44.0" lengthAdjust="spacingAndGlyphs" class="G">0.03</text>
<text x="417.0" y="785.0" textLength="9.6" lengthAdjust="spacingAndGlyphs" class="G">L</text>
<text x="440.5" y="785.0" textLength="44.0" lengthAdjust="spacingAndGlyphs" class="G">1.49</text>
<text x="529.5" y="760.8" textLength="13.0" lengthAdjust="spacingAndGlyphs" class="A">A</text>
<text x="529.5" y="784.8" textLength="13.0" lengthAdjust="spacingAndGlyphs" class="A">A</text>
<text x="64.5" y="851.3" textLength="19.3" lengthAdjust="spacingAndGlyphs" class="l">OF</text>
<path d="M97.5,843.8 V853.8" stroke="#000" stroke-width="1.9"/><path d="M97.5,855.8 L93.9,851.8 H101.1 Z" fill="#000"/><ellipse cx="97.5" cy="853.0" rx="4.3" ry="2.5" fill="#000"/>
<text x="116.8" y="855.0" textLength="13.6" lengthAdjust="spacingAndGlyphs" class="G">G</text>
<text x="140.5" y="855.0" textLength="44.0" lengthAdjust="spacingAndGlyphs" class="G">0.00</text>
<text x="229.5" y="855.0" textLength="13.0" lengthAdjust="spacingAndGlyphs" class="A">A</text>
<path d="M255,843.8 V853.8" stroke="#000" stroke-width="1.9"/><path d="M255,855.8 L251.4,851.8 H258.6 Z" fill="#000"/><ellipse cx="255" cy="853.0" rx="4.3" ry="2.5" fill="#000"/>
<text x="274.5" y="855.0" textLength="48.8" lengthAdjust="spacingAndGlyphs" class="g">G 2.00</text>
<path d="M353,844.8 V855.3" stroke="#000" stroke-width="1.8"/><path d="M353,843.1999999999999 L348.8,848.0 H357.2 Z" fill="#000"/>
<text x="371.8" y="855.0" textLength="48.2" lengthAdjust="spacingAndGlyphs" class="g">G 1.98</text>
<path d="M89.3,895.5 L89.3,872 L132,872 L130.2,873.8 L91.1,873.8 L91.1,893.7 Z" fill="#7DBE8E"/>
<path d="M89.3,895.5 L132,895.5 L132,872 L130.2,873.8 L130.2,893.7 L91.1,893.7 Z" fill="#000"/>
<text x="96.6" y="889.7" textLength="28.1" lengthAdjust="spacingAndGlyphs" class="k">005</text>
<text x="150.0" y="882.0" textLength="52.5" lengthAdjust="spacingAndGlyphs" class="l">to Spill</text>
<text x="150.0" y="898.0" textLength="63.0" lengthAdjust="spacingAndGlyphs" class="l">Oil Tank</text>
<path d="M295,895.5 L295,872 L338.8,872 L337.0,873.8 L296.8,873.8 L296.8,893.7 Z" fill="#7DBE8E"/>
<path d="M295,895.5 L338.8,895.5 L338.8,872 L337.0,873.8 L337.0,893.7 L296.8,893.7 Z" fill="#000"/>
<text x="302.3" y="889.7" textLength="29.2" lengthAdjust="spacingAndGlyphs" class="k">009</text>
<text x="353.3" y="887.0" textLength="82.5" lengthAdjust="spacingAndGlyphs" class="l">LO Purifier</text>
<text x="597.0" y="851.3" textLength="19.3" lengthAdjust="spacingAndGlyphs" class="l">OF</text>
<path d="M630,843.8 V853.8" stroke="#000" stroke-width="1.9"/><path d="M630,855.8 L626.4,851.8 H633.6 Z" fill="#000"/><ellipse cx="630" cy="853.0" rx="4.3" ry="2.5" fill="#000"/>
<text x="650.0" y="855.0" textLength="13.6" lengthAdjust="spacingAndGlyphs" class="G">G</text>
<text x="672.3" y="855.0" textLength="44.0" lengthAdjust="spacingAndGlyphs" class="G">0.00</text>
<text x="761.3" y="855.0" textLength="13.2" lengthAdjust="spacingAndGlyphs" class="A">A</text>
<path d="M791.8,843.8 V853.8" stroke="#000" stroke-width="1.9"/><path d="M791.8,855.8 L788.1999999999999,851.8 H795.4 Z" fill="#000"/><ellipse cx="791.8" cy="853.0" rx="4.3" ry="2.5" fill="#000"/>
<text x="810.8" y="855.0" textLength="48.5" lengthAdjust="spacingAndGlyphs" class="g">G 0.00</text>
<path d="M622,895.5 L622,872 L665,872 L663.2,873.8 L623.8,873.8 L623.8,893.7 Z" fill="#7DBE8E"/>
<path d="M622,895.5 L665,895.5 L665,872 L663.2,873.8 L663.2,893.7 L623.8,893.7 Z" fill="#000"/>
<text x="629.3" y="889.7" textLength="28.4" lengthAdjust="spacingAndGlyphs" class="k">005</text>
<text x="679.3" y="882.0" textLength="52.0" lengthAdjust="spacingAndGlyphs" class="l">to Spill</text>
<text x="679.3" y="898.0" textLength="62.7" lengthAdjust="spacingAndGlyphs" class="l">Oil Tank</text>
<rect x="8.8" y="945" width="162.5" height="17" fill="#00FF00"/>
<text x="10.0" y="958.0" textLength="159.5" lengthAdjust="spacingAndGlyphs" class="k" font-size="12.6" font-weight="bold">X07069: ALARM STATE</text>
<text x="1651.3" y="958.0" textLength="253.2" lengthAdjust="spacingAndGlyphs" class="k">ERS - MC90-III 2.0.0.0182 (00)</text>
<path d="M1818.3,932.5 L1818.3,910.5 L1860.8,910.5 L1859.0,912.3 L1820.1,912.3 L1820.1,930.7 Z" fill="#7DBE8E"/>
<path d="M1818.3,932.5 L1860.8,932.5 L1860.8,910.5 L1859.0,912.3 L1859.0,930.7 L1820.1,930.7 Z" fill="#000"/>
<text x="1834.5" y="926.3" textLength="10.0" lengthAdjust="spacingAndGlyphs" class="k">V</text>
<path d="M8,1043 V971 H1908 V973 H10 V1043 Z" fill="#000"/>
<path d="M8,1043 H1912 V972 H1910.3 V1041.3 H8 Z" fill="#7DBE8E"/>
<path d="M68,1031.8 L68,982 L242.3,982 L240.5,983.8 L69.8,983.8 L69.8,1030.0 Z" fill="#7DBE8E"/>
<path d="M68,1031.8 L242.3,1031.8 L242.3,982 L240.5,983.8 L240.5,1030.0 L69.8,1030.0 Z" fill="#000"/>
<path d="M256.3,1031.8 L256.3,982 L430.6,982 L428.8,983.8 L258.1,983.8 L258.1,1030.0 Z" fill="#7DBE8E"/>
<path d="M256.3,1031.8 L430.6,1031.8 L430.6,982 L428.8,983.8 L428.8,1030.0 L258.1,1030.0 Z" fill="#000"/>
<path d="M443.3,1031.8 L443.3,982 L617.6,982 L615.8000000000001,983.8 L445.1,983.8 L445.1,1030.0 Z" fill="#7DBE8E"/>
<path d="M443.3,1031.8 L617.6,1031.8 L617.6,982 L615.8000000000001,983.8 L615.8000000000001,1030.0 L445.1,1030.0 Z" fill="#000"/>
<path d="M683.3,1031.8 L683.3,982 L857.5999999999999,982 L855.8,983.8 L685.0999999999999,983.8 L685.0999999999999,1030.0 Z" fill="#7DBE8E"/>
<path d="M683.3,1031.8 L857.5999999999999,1031.8 L857.5999999999999,982 L855.8,983.8 L855.8,1030.0 L685.0999999999999,1030.0 Z" fill="#000"/>
<path d="M871.3,1031.8 L871.3,982 L1045.6,982 L1043.8,983.8 L873.0999999999999,983.8 L873.0999999999999,1030.0 Z" fill="#7DBE8E"/>
<path d="M871.3,1031.8 L1045.6,1031.8 L1045.6,982 L1043.8,983.8 L1043.8,1030.0 L873.0999999999999,1030.0 Z" fill="#000"/>
<path d="M1058.3,1031.8 L1058.3,982 L1232.6,982 L1230.8,983.8 L1060.1,983.8 L1060.1,1030.0 Z" fill="#7DBE8E"/>
<path d="M1058.3,1031.8 L1232.6,1031.8 L1232.6,982 L1230.8,983.8 L1230.8,1030.0 L1060.1,1030.0 Z" fill="#000"/>
<path d="M1298.3,1031.8 L1298.3,982 L1472.6,982 L1470.8,983.8 L1300.1,983.8 L1300.1,1030.0 Z" fill="#7DBE8E"/>
<path d="M1298.3,1031.8 L1472.6,1031.8 L1472.6,982 L1470.8,983.8 L1470.8,1030.0 L1300.1,1030.0 Z" fill="#000"/>
<path d="M1486.3,1031.8 L1486.3,982 L1660.6,982 L1658.8,983.8 L1488.1,983.8 L1488.1,1030.0 Z" fill="#7DBE8E"/>
<path d="M1486.3,1031.8 L1660.6,1031.8 L1660.6,982 L1658.8,983.8 L1658.8,1030.0 L1488.1,1030.0 Z" fill="#000"/>
<path d="M1673.3,1031.8 L1673.3,982 L1847.6,982 L1845.8,983.8 L1675.1,983.8 L1675.1,1030.0 Z" fill="#7DBE8E"/>
<path d="M1673.3,1031.8 L1847.6,1031.8 L1847.6,982 L1845.8,983.8 L1845.8,1030.0 L1675.1,1030.0 Z" fill="#000"/>
<text x="136.3" y="1004.4" textLength="41.2" lengthAdjust="spacingAndGlyphs" class="b">Unit</text>
<text x="90.5" y="1025.6" textLength="116.5" lengthAdjust="spacingAndGlyphs" class="b">Conversion</text>
<text x="293.8" y="1004.4" textLength="90.7" lengthAdjust="spacingAndGlyphs" class="b">Message</text>
<text x="327.0" y="1025.6" textLength="35.5" lengthAdjust="spacingAndGlyphs" class="b">Log</text>
<text x="1545.8" y="1021.0" textLength="48.5" lengthAdjust="spacingAndGlyphs" class="bd">Back</text>
<text x="1711.3" y="1021.0" textLength="83.7" lengthAdjust="spacingAndGlyphs" class="bd">Forward</text>
<defs><linearGradient id="tb" x1="0" x2="1" y1="0" y2="0"><stop offset="0" stop-color="#0D0F11"/><stop offset="0.45" stop-color="#1B1D1F"/><stop offset="0.75" stop-color="#151413"/><stop offset="1" stop-color="#101214"/></linearGradient></defs>
<rect x="0" y="1050" width="1920" height="30" fill="url(#tb)"/>
<rect x="223.3" y="1050" width="35.69999999999999" height="30" fill="#3D3D3D"/>
<rect x="223.3" y="1078" width="35.69999999999999" height="2" fill="#76B9ED"/>
<path d="M10,1059.3 L16.8,1058.3 V1064.3 H10 Z M17.8,1058.2 L26.2,1057 V1064.3 H17.8 Z M10,1065.3 H16.8 V1071.4 L10,1070.4 Z M17.8,1065.3 H26.2 V1072.6 L17.8,1071.5 Z" fill="#fff"/>
<circle cx="56.3" cy="1062.6" r="5.4" stroke="#fff" stroke-width="1.5" fill="none"/><path d="M52.3,1066.6 L46.4,1072.6" stroke="#fff" stroke-width="1.7"/>
<path d="M85,1058.5 H91 L92.5,1060 H101 V1071.5 H85 Z" fill="#FFD96A"/><path d="M85,1060 H101" stroke="#E9B93E" stroke-width="1"/><path d="M87.5,1071.5 V1066 H98.5 V1071.5 H95.5 V1068.5 H90.5 V1071.5 Z" fill="#2FA4E7"/><rect x="86" y="1059" width="3" height="1" fill="#3E8EDE"/>
<path d="M121.8,1063 L130,1058 L138.2,1063 V1071 H121.8 Z" fill="#fff"/><path d="M124,1063.3 H136 L131.5,1067.5 Z" fill="#111"/>
<circle cx="167" cy="1065" r="7" fill="#DB4437"/><path d="M167,1065 L160.9,1061.5 A7,7 0 0 0 163.5,1071.1 Z" fill="#0F9D58"/><path d="M167,1065 L163.5,1071.1 A7,7 0 0 0 173.9,1064 Z" fill="#F4C20D"/><path d="M167,1065 L160.9,1061.5 A7,7 0 0 1 173.9,1064 Z" fill="#DB4437"/><circle cx="167" cy="1065" r="3.3" fill="#fff"/><circle cx="167" cy="1065" r="2.5" fill="#4285F4"/><rect x="169.5" y="1067" width="2.2" height="5.5" fill="#4FA3E8"/>
<path d="M196.5,1068 C196,1062 202,1059 207,1060.5 C211,1062 210,1066 207.5,1066.5 C205.5,1067 206.5,1069.5 205,1071 C202,1073 197,1072 196.5,1068 Z" fill="#E9EEF5" stroke="#8FA6C8" stroke-width="0.8"/><circle cx="200" cy="1066" r="1.3" fill="#D33"/><circle cx="203" cy="1063" r="1.3" fill="#3A3"/><circle cx="206.5" cy="1063.5" r="1.2" fill="#E92"/><circle cx="201.5" cy="1069.5" r="1.2" fill="#36C"/><path d="M209.5,1057.5 L211.5,1057.5 L211,1071.5 L209.8,1071.5 Z" fill="#E8852C"/><path d="M209.3,1057 h2.6 v3 h-2.6 Z" fill="#C9A36A"/>
<g transform="translate(233.5,1057.2) scale(0.97)"><rect width="16" height="16" fill="#151515"/><path d="M0.7,0.7 H10.5 C6.5,3 3,6.5 0.7,10.5 Z" fill="#F08434"/><path d="M11,0.7 H15.3 V9 C13.5,6.5 12.5,3.5 11,0.7 Z" fill="#D9CBBE"/><path d="M0.7,8.5 C2,11.5 5,14.3 8.5,15.3 H0.7 Z" fill="#F5DC50"/><path d="M15.3,9.8 V15.3 H6.8 C10.5,14.3 13.3,12.3 15.3,9.8 Z" fill="#7FA0C0"/><path d="M8,2.2 L13.8,8 L8,13.8 L2.2,8 Z" fill="#fff"/><circle cx="8" cy="8" r="4.6" fill="#fff"/><circle cx="4.6" cy="4.6" r="0.9" fill="#000"/><circle cx="11.4" cy="4.6" r="0.9" fill="#000"/><circle cx="4.6" cy="11.4" r="0.9" fill="#000"/><circle cx="11.4" cy="11.4" r="0.9" fill="#000"/><circle cx="8" cy="8" r="2.9" fill="#8A8A8A"/><circle cx="8.3" cy="8.5" r="1.6" fill="#E8E8E8"/></g>
<path d="M1539,1059.5 L1546,1057.5 L1553,1059.5 V1065 C1553,1069 1549,1072 1546,1073 C1543,1072 1539,1069 1539,1065 Z" fill="#fff"/><path d="M1546,1057.5 V1073 M1539,1064.5 H1553" stroke="#111" stroke-width="1"/><circle cx="1550" cy="1069.5" r="3.6" fill="#16A34A"/><path d="M1548.2,1069.5 L1549.6,1071 L1552,1068.2" stroke="#fff" stroke-width="1" fill="none"/>
<circle cx="1570" cy="1065" r="7.5" fill="#E0232E"/><path d="M1566,1068.3 V1062 L1570,1065.8 L1574,1062 V1068.3" stroke="#fff" stroke-width="1.5" fill="none"/>
<path d="M1590.3,1058.5 L1593.8,1060.7 L1590.3,1063 L1586.8,1060.7 Z M1597.3,1058.5 L1600.8,1060.7 L1597.3,1063 L1593.8,1060.7 Z M1590.3,1063.2 L1593.8,1065.4 L1590.3,1067.7 L1586.8,1065.4 Z M1597.3,1063.2 L1600.8,1065.4 L1597.3,1067.7 L1593.8,1065.4 Z M1593.8,1066.5 L1597,1068.6 L1593.8,1070.8 L1590.6,1068.6 Z" fill="#fff"/>
<g transform="translate(1610,1057)"><rect width="16" height="16" fill="#8A6D3B"/><path d="M0,0 H8 L0,8 Z" fill="#E8B23A"/><path d="M16,16 H8 L16,8 Z" fill="#3F6FB5"/><rect x="3.5" y="3.5" width="9" height="9" fill="#F4F4F4" stroke="#223" stroke-width="1"/><path d="M5,6 H11 M5,8.5 H11 M5,10.5 H9" stroke="#223" stroke-width="1"/><rect x="5" y="2" width="6" height="2" fill="#C33"/></g>
<path d="M1634,1070.3 H1650" stroke="#19D9E6" stroke-width="2"/><path d="M1635,1067.5 H1649 L1646,1065 H1640 L1638,1062 L1636,1059" stroke="#E8E8E8" stroke-width="1.2" fill="none"/><path d="M1637,1060 l1,0 M1639.5,1062 l1,0" stroke="#E55" stroke-width="1"/>
<path d="M1658,1062.5 H1662 L1667,1058 V1072 L1662,1067.5 H1658 Z" fill="#E8C21A" stroke="#7A650B" stroke-width="0.6"/><rect x="1668" y="1062" width="2.2" height="2.2" fill="#E33"/><rect x="1671" y="1062" width="2.2" height="2.2" fill="#3C3"/><rect x="1668" y="1065.5" width="2.2" height="2.2" fill="#36E"/><rect x="1671" y="1065.5" width="2.2" height="2.2" fill="#A3C"/><path d="M1669,1059 l3,-1.5 M1669,1071 l3,1.5" stroke="#999" stroke-width="1"/>
<path d="M1686,1061.5 H1692.5 V1072 H1686 Z M1687.5,1061.5 V1058 H1691 V1061.5" stroke="#fff" stroke-width="1.1" fill="none"/><path d="M1693.5,1070.5 L1695,1072 L1697.5,1069" stroke="#fff" stroke-width="1" fill="none"/>
<rect x="1706" y="1057.3" width="16.5" height="15.5" rx="2" fill="#2D9BE0"/><rect x="1708.5" y="1060" width="11.5" height="3" fill="#CFE9F9"/><path d="M1709,1065 h10 M1709,1067.5 h10" stroke="#CFE9F9" stroke-width="1"/><path d="M1706.5,1071.5 q3,-4 7,-1 l-1,2.3 z" fill="#F2D64B"/><circle cx="1717" cy="1069" r="1.8" fill="none" stroke="#0B4F7A" stroke-width="0.8"/>
<path d="M1735,1059.5 H1746 V1067.5 H1735 Z M1740.5,1067.5 V1071.5 M1737,1071.8 H1744" stroke="#fff" stroke-width="1.2" fill="none"/><path d="M1730,1059 H1733.5 V1062.5 H1730 Z M1731.8,1062.5 V1069.5 H1735" stroke="#fff" stroke-width="1" fill="none"/>
<path d="M1754.5,1062.8 H1757 L1760.5,1059.5 V1071 L1757,1067.7 H1754.5 Z" stroke="#fff" stroke-width="1.1" fill="none"/><path d="M1763,1062.5 q1.5,2.7 0,5.4 M1765.5,1060.8 q2.6,4.4 0,8.8" stroke="#fff" stroke-width="1" fill="none"/><path d="M1768,1059.3 q3.5,5.9 0,11.8" stroke="#888" stroke-width="1" fill="none"/>
<text x="1780.0" y="1068.8" textLength="22.5" lengthAdjust="spacingAndGlyphs" class="w">ENG</text>
<text x="1819.5" y="1068.8" textLength="37.5" lengthAdjust="spacingAndGlyphs" class="w">1:09 μμ</text>
<path d="M1879.5,1057.8 H1895.5 V1068.8 H1890.5 L1887,1072.3 V1068.8 H1879.5 Z" fill="#fff"/><path d="M1882.3,1061 H1892.7 M1882.3,1063.5 H1892.7 M1882.3,1066 H1889" stroke="#111" stroke-width="1"/>
<path d="M1915.5,1050 V1080" stroke="#555" stroke-width="1"/>
</svg></body></html>
